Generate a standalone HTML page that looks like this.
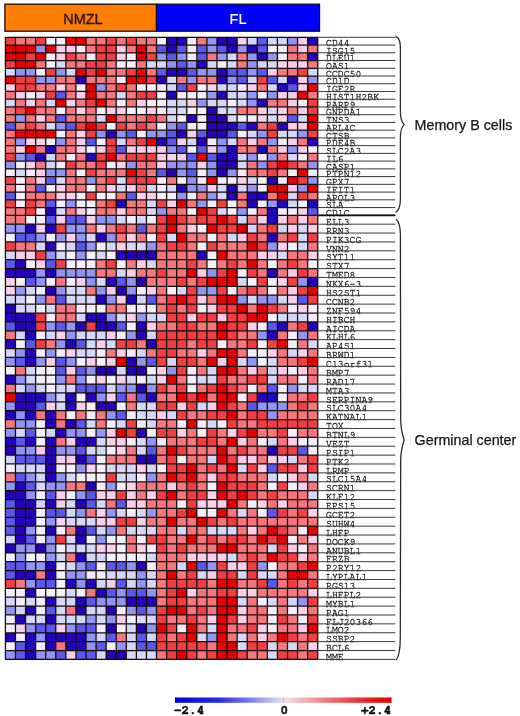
<!DOCTYPE html>
<html><head><meta charset="utf-8"><title>Heatmap NMZL vs FL</title>
<style>
html,body{margin:0;padding:0;background:#fff;}
body{width:520px;height:716px;overflow:hidden;position:relative;}
svg{position:absolute;left:0;top:0;}
</style></head><body>
<svg width="520" height="716" viewBox="0 0 520 716">
<rect x="0" y="0" width="520" height="716" fill="#ffffff"/>
<defs>
<linearGradient id="cb" x1="0" x2="1" y1="0" y2="0">
<stop offset="0" stop-color="#0000e0"/>
<stop offset="0.2" stop-color="#2a2ae6"/>
<stop offset="0.35" stop-color="#8080ee"/>
<stop offset="0.49" stop-color="#d8dcf4"/>
<stop offset="0.51" stop-color="#f8dade"/>
<stop offset="0.6" stop-color="#f4acb4"/>
<stop offset="0.7" stop-color="#f07880"/>
<stop offset="0.8" stop-color="#ec4850"/>
<stop offset="0.9" stop-color="#e81c20"/>
<stop offset="1" stop-color="#e40000"/>
</linearGradient>
</defs>
<rect x="4.9" y="4.2" width="151.6" height="27" fill="#ff7d00" stroke="#1a0800" stroke-width="1.3"/>
<rect x="156.5" y="4.2" width="163" height="27" fill="#0000ff" stroke="#0a0a30" stroke-width="1.3"/>
<text x="82.9" y="24" font-family="Liberation Sans, Arial, sans-serif" font-size="14.5" fill="#2a1000" stroke="#2a1000" stroke-width="0.35" text-anchor="middle">NMZL</text>
<text x="238" y="24" font-family="Liberation Sans, Arial, sans-serif" font-size="14.5" fill="#ffffff" stroke="#ffffff" stroke-width="0.2" text-anchor="middle">FL</text>
<g transform="scale(1,0.95)" font-family="TeX Gyre Cursor, Liberation Mono, monospace" font-size="9.85" fill="#1a1a1a" stroke="#1a1a1a" stroke-width="0.28"><text x="326" y="48.2">CD44</text><text x="326" y="56.35">ISG15</text><text x="326" y="64.49">DLEU1</text><text x="326" y="72.64">OAS1</text><text x="326" y="80.78">CCDC50</text><text x="326" y="88.93">CD1D</text><text x="326" y="97.08">IGF2R</text><text x="326" y="105.22">HIST1H2BK</text><text x="326" y="113.37">PARP9</text><text x="326" y="121.52">GNPDA1</text><text x="326" y="129.66">TNS3</text><text x="326" y="137.81">ARL4C</text><text x="326" y="145.95">CTSB</text><text x="326" y="154.1">PDE4B</text><text x="326" y="162.25">SLC2A3</text><text x="326" y="170.39">IL6</text><text x="326" y="178.54">CASP1</text><text x="326" y="186.69">PTPN12</text><text x="326" y="194.83">GPX7</text><text x="326" y="202.98">IFIT1</text><text x="326" y="211.13">APOL3</text><text x="326" y="219.27">SLA</text><text x="326" y="227.42">CD1C</text><text x="326" y="236.77">ELL3</text><text x="326" y="246.12">RRN3</text><text x="326" y="255.47">PIK3CG</text><text x="326" y="264.82">VNN2</text><text x="326" y="274.17">SYT11</text><text x="326" y="283.51">STX7</text><text x="326" y="292.86">TMED8</text><text x="326" y="302.21">NKX6-3</text><text x="326" y="311.56">HS2ST1</text><text x="326" y="320.91">CCNB2</text><text x="326" y="330.26">ZNF594</text><text x="326" y="339.61">HIBCH</text><text x="326" y="348.96">AICDA</text><text x="326" y="358.31">KLHL6</text><text x="326" y="367.66">AP4S1</text><text x="326" y="377.01">BRWD1</text><text x="326" y="386.36">C13orf31</text><text x="326" y="395.71">BMP7</text><text x="326" y="405.06">RAD17</text><text x="326" y="414.41">MTA3</text><text x="326" y="423.76">SERPINA9</text><text x="326" y="433.11">SLC30A4</text><text x="326" y="442.46">KATNAL1</text><text x="326" y="451.81">TOX</text><text x="326" y="461.15">BTNL9</text><text x="326" y="470.5">VEZT</text><text x="326" y="479.85">PSIP1</text><text x="326" y="489.2">PTK2</text><text x="326" y="498.55">LRMP</text><text x="326" y="507.9">SLC15A4</text><text x="326" y="517.25">SCRN1</text><text x="326" y="526.6">KLF12</text><text x="326" y="535.95">EPS15</text><text x="326" y="545.3">GCET2</text><text x="326" y="554.65">SUHW4</text><text x="326" y="564">LHFP</text><text x="326" y="573.35">DOCK9</text><text x="326" y="582.7">ANUBL1</text><text x="326" y="592.05">FRZB</text><text x="326" y="601.4">P2RY12</text><text x="326" y="610.75">LYPLAL1</text><text x="326" y="620.1">RGS13</text><text x="326" y="629.45">LHFPL2</text><text x="326" y="638.79">MYBL1</text><text x="326" y="648.14">PAG1</text><text x="326" y="657.49">FLJ20366</text><text x="326" y="666.84">LMO2</text><text x="326" y="676.19">SSBP2</text><text x="326" y="685.54">BCL6</text><text x="326" y="694.89">MME</text></g>
<g shape-rendering="crispEdges"><path fill="#2204bc" d="M166.6 37.3h10.07v7.74h-10.07zM176.67 37.3h10.07v7.74h-10.07zM216.97 37.3h10.07v7.74h-10.07zM227.05 37.3h10.07v7.74h-10.07zM307.65 37.3h10.07v7.74h-10.07zM166.6 45.04h10.07v7.74h-10.07zM227.05 45.04h10.07v7.74h-10.07zM247.2 45.04h10.07v7.74h-10.07zM257.27 52.78h10.07v7.74h-10.07zM307.65 52.78h10.07v7.74h-10.07zM196.82 60.52h10.07v7.74h-10.07zM166.6 68.26h10.07v7.74h-10.07zM176.67 68.26h10.07v7.74h-10.07zM216.97 68.26h10.07v7.74h-10.07zM75.92 76h10.07v7.74h-10.07zM156.53 76h10.07v7.74h-10.07zM216.97 76h10.07v7.74h-10.07zM287.5 76h10.07v7.74h-10.07zM277.42 83.73h10.07v7.74h-10.07zM166.6 91.47h10.07v7.74h-10.07zM216.97 91.47h10.07v7.74h-10.07zM257.27 99.21h10.07v7.74h-10.07zM206.9 106.95h10.07v7.74h-10.07zM186.75 114.69h10.07v7.74h-10.07zM206.9 114.69h10.07v7.74h-10.07zM216.97 114.69h10.07v7.74h-10.07zM206.9 122.43h10.07v7.74h-10.07zM216.97 122.43h10.07v7.74h-10.07zM227.05 122.43h10.07v7.74h-10.07zM247.2 122.43h10.07v7.74h-10.07zM277.42 122.43h10.07v7.74h-10.07zM106.15 130.17h10.07v7.74h-10.07zM176.67 130.17h10.07v7.74h-10.07zM206.9 130.17h10.07v7.74h-10.07zM216.97 130.17h10.07v7.74h-10.07zM156.53 137.91h10.07v7.74h-10.07zM196.82 137.91h10.07v7.74h-10.07zM307.65 137.91h10.07v7.74h-10.07zM45.7 145.65h10.07v7.74h-10.07zM227.05 145.65h10.07v7.74h-10.07zM257.27 145.65h10.07v7.74h-10.07zM35.62 153.38h10.07v7.74h-10.07zM86 153.38h10.07v7.74h-10.07zM216.97 153.38h10.07v7.74h-10.07zM227.05 153.38h10.07v7.74h-10.07zM216.97 161.12h10.07v7.74h-10.07zM227.05 161.12h10.07v7.74h-10.07zM166.6 168.86h10.07v7.74h-10.07zM216.97 168.86h10.07v7.74h-10.07zM267.35 176.6h10.07v7.74h-10.07zM176.67 184.34h10.07v7.74h-10.07zM227.05 184.34h10.07v7.74h-10.07zM227.05 192.08h10.07v7.74h-10.07zM247.2 192.08h10.07v7.74h-10.07zM257.27 192.08h10.07v7.74h-10.07zM116.22 199.82h10.07v7.74h-10.07zM247.2 199.82h10.07v7.74h-10.07zM277.42 199.82h10.07v7.74h-10.07zM307.65 199.82h10.07v7.74h-10.07zM45.7 207.56h10.07v7.74h-10.07zM267.35 207.56h10.07v7.74h-10.07zM267.35 215.3h10.07v8.88h-10.07zM25.55 224.18h10.07v8.88h-10.07zM45.7 224.18h10.07v8.88h-10.07zM96.08 233.06h10.07v8.88h-10.07zM267.35 233.06h10.07v8.88h-10.07zM45.7 241.94h10.07v8.88h-10.07zM116.22 250.82h10.07v8.88h-10.07zM126.3 250.82h10.07v8.88h-10.07zM136.38 250.82h10.07v8.88h-10.07zM146.45 250.82h10.07v8.88h-10.07zM196.82 250.82h10.07v8.88h-10.07zM15.47 259.71h10.07v8.88h-10.07zM5.4 268.59h10.07v8.88h-10.07zM15.47 268.59h10.07v8.88h-10.07zM25.55 268.59h10.07v8.88h-10.07zM45.7 268.59h10.07v8.88h-10.07zM267.35 268.59h10.07v8.88h-10.07zM106.15 277.47h10.07v8.88h-10.07zM136.38 277.47h10.07v8.88h-10.07zM307.65 277.47h10.07v8.88h-10.07zM45.7 286.35h10.07v8.88h-10.07zM116.22 286.35h10.07v8.88h-10.07zM96.08 295.23h10.07v8.88h-10.07zM126.3 295.23h10.07v8.88h-10.07zM5.4 304.12h10.07v8.88h-10.07zM5.4 313h10.07v8.88h-10.07zM15.47 313h10.07v8.88h-10.07zM25.55 313h10.07v8.88h-10.07zM86 313h10.07v8.88h-10.07zM96.08 313h10.07v8.88h-10.07zM15.47 321.88h10.07v8.88h-10.07zM25.55 321.88h10.07v8.88h-10.07zM75.92 321.88h10.07v8.88h-10.07zM96.08 321.88h10.07v8.88h-10.07zM106.15 321.88h10.07v8.88h-10.07zM136.38 321.88h10.07v8.88h-10.07zM277.42 321.88h10.07v8.88h-10.07zM307.65 321.88h10.07v8.88h-10.07zM25.55 330.76h10.07v8.88h-10.07zM136.38 330.76h10.07v8.88h-10.07zM267.35 330.76h10.07v8.88h-10.07zM5.4 339.64h10.07v8.88h-10.07zM65.85 339.64h10.07v8.88h-10.07zM146.45 339.64h10.07v8.88h-10.07zM25.55 348.53h10.07v8.88h-10.07zM25.55 357.41h10.07v8.88h-10.07zM126.3 357.41h10.07v8.88h-10.07zM96.08 366.29h10.07v8.88h-10.07zM106.15 366.29h10.07v8.88h-10.07zM126.3 366.29h10.07v8.88h-10.07zM136.38 366.29h10.07v8.88h-10.07zM5.4 375.17h10.07v8.88h-10.07zM136.38 384.05h10.07v8.88h-10.07zM15.47 392.94h10.07v8.88h-10.07zM25.55 392.94h10.07v8.88h-10.07zM35.62 392.94h10.07v8.88h-10.07zM65.85 392.94h10.07v8.88h-10.07zM86 392.94h10.07v8.88h-10.07zM146.45 392.94h10.07v8.88h-10.07zM257.27 392.94h10.07v8.88h-10.07zM267.35 392.94h10.07v8.88h-10.07zM15.47 401.82h10.07v8.88h-10.07zM25.55 401.82h10.07v8.88h-10.07zM65.85 401.82h10.07v8.88h-10.07zM96.08 401.82h10.07v8.88h-10.07zM106.15 401.82h10.07v8.88h-10.07zM5.4 410.7h10.07v8.88h-10.07zM25.55 410.7h10.07v8.88h-10.07zM45.7 410.7h10.07v8.88h-10.07zM45.7 419.58h10.07v8.88h-10.07zM65.85 419.58h10.07v8.88h-10.07zM55.77 428.46h10.07v8.88h-10.07zM136.38 428.46h10.07v8.88h-10.07zM5.4 437.35h10.07v8.88h-10.07zM25.55 437.35h10.07v8.88h-10.07zM45.7 437.35h10.07v8.88h-10.07zM75.92 437.35h10.07v8.88h-10.07zM86 437.35h10.07v8.88h-10.07zM5.4 446.23h10.07v8.88h-10.07zM45.7 446.23h10.07v8.88h-10.07zM267.35 446.23h10.07v8.88h-10.07zM45.7 455.11h10.07v8.88h-10.07zM75.92 455.11h10.07v8.88h-10.07zM136.38 455.11h10.07v8.88h-10.07zM146.45 455.11h10.07v8.88h-10.07zM45.7 463.99h10.07v8.88h-10.07zM45.7 472.87h10.07v8.88h-10.07zM15.47 481.76h10.07v8.88h-10.07zM86 481.76h10.07v8.88h-10.07zM5.4 490.64h10.07v8.88h-10.07zM15.47 490.64h10.07v8.88h-10.07zM15.47 499.52h10.07v8.88h-10.07zM25.55 499.52h10.07v8.88h-10.07zM45.7 499.52h10.07v8.88h-10.07zM75.92 499.52h10.07v8.88h-10.07zM15.47 508.4h10.07v8.88h-10.07zM25.55 508.4h10.07v8.88h-10.07zM15.47 517.28h10.07v8.88h-10.07zM25.55 517.28h10.07v8.88h-10.07zM15.47 526.17h10.07v8.88h-10.07zM45.7 526.17h10.07v8.88h-10.07zM75.92 526.17h10.07v8.88h-10.07zM15.47 535.05h10.07v8.88h-10.07zM75.92 535.05h10.07v8.88h-10.07zM5.4 543.93h10.07v8.88h-10.07zM35.62 543.93h10.07v8.88h-10.07zM75.92 552.81h10.07v8.88h-10.07zM45.7 561.69h10.07v8.88h-10.07zM136.38 561.69h10.07v8.88h-10.07zM15.47 570.58h10.07v8.88h-10.07zM25.55 570.58h10.07v8.88h-10.07zM45.7 570.58h10.07v8.88h-10.07zM65.85 579.46h10.07v8.88h-10.07zM86 579.46h10.07v8.88h-10.07zM25.55 588.34h10.07v8.88h-10.07zM96.08 588.34h10.07v8.88h-10.07zM45.7 597.22h10.07v8.88h-10.07zM75.92 597.22h10.07v8.88h-10.07zM126.3 597.22h10.07v8.88h-10.07zM136.38 597.22h10.07v8.88h-10.07zM146.45 597.22h10.07v8.88h-10.07zM25.55 606.11h10.07v8.88h-10.07zM75.92 606.11h10.07v8.88h-10.07zM106.15 606.11h10.07v8.88h-10.07zM15.47 614.99h10.07v8.88h-10.07zM45.7 614.99h10.07v8.88h-10.07zM106.15 623.87h10.07v8.88h-10.07zM136.38 623.87h10.07v8.88h-10.07zM5.4 632.75h10.07v8.88h-10.07zM25.55 632.75h10.07v8.88h-10.07zM45.7 632.75h10.07v8.88h-10.07zM55.77 632.75h10.07v8.88h-10.07zM65.85 632.75h10.07v8.88h-10.07zM75.92 632.75h10.07v8.88h-10.07zM25.55 641.63h10.07v8.88h-10.07zM45.7 641.63h10.07v8.88h-10.07zM65.85 641.63h10.07v8.88h-10.07zM75.92 641.63h10.07v8.88h-10.07zM25.55 650.51h10.07v8.88h-10.07zM106.15 650.51h10.07v8.88h-10.07zM116.22 650.51h10.07v8.88h-10.07z"/><path fill="#5a58ea" d="M257.27 37.3h10.07v7.74h-10.07zM156.53 45.04h10.07v7.74h-10.07zM176.67 45.04h10.07v7.74h-10.07zM196.82 45.04h10.07v7.74h-10.07zM216.97 45.04h10.07v7.74h-10.07zM257.27 45.04h10.07v7.74h-10.07zM166.6 52.78h10.07v7.74h-10.07zM196.82 52.78h10.07v7.74h-10.07zM176.67 60.52h10.07v7.74h-10.07zM156.53 68.26h10.07v7.74h-10.07zM186.75 68.26h10.07v7.74h-10.07zM227.05 68.26h10.07v7.74h-10.07zM237.12 68.26h10.07v7.74h-10.07zM257.27 68.26h10.07v7.74h-10.07zM237.12 76h10.07v7.74h-10.07zM267.35 76h10.07v7.74h-10.07zM176.67 83.73h10.07v7.74h-10.07zM287.5 83.73h10.07v7.74h-10.07zM55.77 91.47h10.07v7.74h-10.07zM55.77 114.69h10.07v7.74h-10.07zM287.5 114.69h10.07v7.74h-10.07zM5.4 122.43h10.07v7.74h-10.07zM65.85 122.43h10.07v7.74h-10.07zM176.67 122.43h10.07v7.74h-10.07zM237.12 122.43h10.07v7.74h-10.07zM126.3 130.17h10.07v7.74h-10.07zM166.6 130.17h10.07v7.74h-10.07zM196.82 130.17h10.07v7.74h-10.07zM227.05 130.17h10.07v7.74h-10.07zM86 137.91h10.07v7.74h-10.07zM166.6 137.91h10.07v7.74h-10.07zM116.22 145.65h10.07v7.74h-10.07zM176.67 145.65h10.07v7.74h-10.07zM196.82 145.65h10.07v7.74h-10.07zM25.55 153.38h10.07v7.74h-10.07zM186.75 153.38h10.07v7.74h-10.07zM206.9 153.38h10.07v7.74h-10.07zM156.53 168.86h10.07v7.74h-10.07zM186.75 168.86h10.07v7.74h-10.07zM45.7 176.6h10.07v7.74h-10.07zM35.62 184.34h10.07v7.74h-10.07zM5.4 192.08h10.07v7.74h-10.07zM126.3 192.08h10.07v7.74h-10.07zM45.7 199.82h10.07v7.74h-10.07zM307.65 207.56h10.07v7.74h-10.07zM45.7 215.3h10.07v8.88h-10.07zM65.85 215.3h10.07v8.88h-10.07zM75.92 215.3h10.07v8.88h-10.07zM136.38 224.18h10.07v8.88h-10.07zM15.47 233.06h10.07v8.88h-10.07zM25.55 233.06h10.07v8.88h-10.07zM75.92 241.94h10.07v8.88h-10.07zM5.4 259.71h10.07v8.88h-10.07zM45.7 259.71h10.07v8.88h-10.07zM25.55 277.47h10.07v8.88h-10.07zM116.22 277.47h10.07v8.88h-10.07zM55.77 295.23h10.07v8.88h-10.07zM146.45 295.23h10.07v8.88h-10.07zM297.57 295.23h10.07v8.88h-10.07zM5.4 321.88h10.07v8.88h-10.07zM55.77 321.88h10.07v8.88h-10.07zM116.22 321.88h10.07v8.88h-10.07zM267.35 321.88h10.07v8.88h-10.07zM25.55 339.64h10.07v8.88h-10.07zM75.92 339.64h10.07v8.88h-10.07zM15.47 357.41h10.07v8.88h-10.07zM55.77 357.41h10.07v8.88h-10.07zM146.45 357.41h10.07v8.88h-10.07zM55.77 366.29h10.07v8.88h-10.07zM75.92 366.29h10.07v8.88h-10.07zM75.92 384.05h10.07v8.88h-10.07zM86 384.05h10.07v8.88h-10.07zM96.08 384.05h10.07v8.88h-10.07zM267.35 384.05h10.07v8.88h-10.07zM116.22 392.94h10.07v8.88h-10.07zM136.38 392.94h10.07v8.88h-10.07zM35.62 401.82h10.07v8.88h-10.07zM247.2 401.82h10.07v8.88h-10.07zM116.22 410.7h10.07v8.88h-10.07zM75.92 419.58h10.07v8.88h-10.07zM25.55 428.46h10.07v8.88h-10.07zM15.47 437.35h10.07v8.88h-10.07zM75.92 446.23h10.07v8.88h-10.07zM146.45 446.23h10.07v8.88h-10.07zM297.57 446.23h10.07v8.88h-10.07zM15.47 455.11h10.07v8.88h-10.07zM25.55 455.11h10.07v8.88h-10.07zM35.62 455.11h10.07v8.88h-10.07zM86 455.11h10.07v8.88h-10.07zM267.35 463.99h10.07v8.88h-10.07zM15.47 472.87h10.07v8.88h-10.07zM25.55 481.76h10.07v8.88h-10.07zM45.7 490.64h10.07v8.88h-10.07zM86 490.64h10.07v8.88h-10.07zM5.4 499.52h10.07v8.88h-10.07zM86 499.52h10.07v8.88h-10.07zM116.22 499.52h10.07v8.88h-10.07zM5.4 508.4h10.07v8.88h-10.07zM45.7 508.4h10.07v8.88h-10.07zM55.77 508.4h10.07v8.88h-10.07zM267.35 508.4h10.07v8.88h-10.07zM5.4 517.28h10.07v8.88h-10.07zM5.4 526.17h10.07v8.88h-10.07zM86 526.17h10.07v8.88h-10.07zM25.55 535.05h10.07v8.88h-10.07zM5.4 561.69h10.07v8.88h-10.07zM15.47 561.69h10.07v8.88h-10.07zM86 561.69h10.07v8.88h-10.07zM106.15 561.69h10.07v8.88h-10.07zM116.22 561.69h10.07v8.88h-10.07zM196.82 561.69h10.07v8.88h-10.07zM5.4 570.58h10.07v8.88h-10.07zM35.62 579.46h10.07v8.88h-10.07zM45.7 579.46h10.07v8.88h-10.07zM116.22 579.46h10.07v8.88h-10.07zM267.35 579.46h10.07v8.88h-10.07zM106.15 588.34h10.07v8.88h-10.07zM126.3 588.34h10.07v8.88h-10.07zM136.38 588.34h10.07v8.88h-10.07zM86 597.22h10.07v8.88h-10.07zM45.7 606.11h10.07v8.88h-10.07zM136.38 606.11h10.07v8.88h-10.07zM35.62 623.87h10.07v8.88h-10.07zM45.7 623.87h10.07v8.88h-10.07zM75.92 623.87h10.07v8.88h-10.07zM86 623.87h10.07v8.88h-10.07zM106.15 632.75h10.07v8.88h-10.07zM136.38 632.75h10.07v8.88h-10.07zM15.47 641.63h10.07v8.88h-10.07zM96.08 641.63h10.07v8.88h-10.07zM136.38 641.63h10.07v8.88h-10.07zM146.45 641.63h10.07v8.88h-10.07zM15.47 650.51h10.07v8.88h-10.07zM55.77 650.51h10.07v8.88h-10.07zM75.92 650.51h10.07v8.88h-10.07zM86 650.51h10.07v8.88h-10.07z"/><path fill="#9094f2" d="M206.9 37.3h10.07v7.74h-10.07zM287.5 37.3h10.07v7.74h-10.07zM35.62 45.04h10.07v7.74h-10.07zM206.9 45.04h10.07v7.74h-10.07zM237.12 45.04h10.07v7.74h-10.07zM156.53 52.78h10.07v7.74h-10.07zM176.67 52.78h10.07v7.74h-10.07zM216.97 52.78h10.07v7.74h-10.07zM247.2 52.78h10.07v7.74h-10.07zM267.35 52.78h10.07v7.74h-10.07zM166.6 60.52h10.07v7.74h-10.07zM186.75 60.52h10.07v7.74h-10.07zM247.2 60.52h10.07v7.74h-10.07zM15.47 68.26h10.07v7.74h-10.07zM25.55 68.26h10.07v7.74h-10.07zM55.77 68.26h10.07v7.74h-10.07zM196.82 68.26h10.07v7.74h-10.07zM206.9 68.26h10.07v7.74h-10.07zM247.2 68.26h10.07v7.74h-10.07zM35.62 76h10.07v7.74h-10.07zM45.7 76h10.07v7.74h-10.07zM186.75 76h10.07v7.74h-10.07zM227.05 76h10.07v7.74h-10.07zM307.65 76h10.07v7.74h-10.07zM96.08 83.73h10.07v7.74h-10.07zM206.9 91.47h10.07v7.74h-10.07zM247.2 91.47h10.07v7.74h-10.07zM267.35 91.47h10.07v7.74h-10.07zM196.82 99.21h10.07v7.74h-10.07zM247.2 99.21h10.07v7.74h-10.07zM15.47 114.69h10.07v7.74h-10.07zM55.77 122.43h10.07v7.74h-10.07zM166.6 122.43h10.07v7.74h-10.07zM96.08 130.17h10.07v7.74h-10.07zM116.22 130.17h10.07v7.74h-10.07zM146.45 130.17h10.07v7.74h-10.07zM156.53 130.17h10.07v7.74h-10.07zM257.27 130.17h10.07v7.74h-10.07zM297.57 130.17h10.07v7.74h-10.07zM15.47 137.91h10.07v7.74h-10.07zM55.77 137.91h10.07v7.74h-10.07zM216.97 137.91h10.07v7.74h-10.07zM267.35 137.91h10.07v7.74h-10.07zM166.6 145.65h10.07v7.74h-10.07zM216.97 145.65h10.07v7.74h-10.07zM287.5 145.65h10.07v7.74h-10.07zM15.47 153.38h10.07v7.74h-10.07zM247.2 153.38h10.07v7.74h-10.07zM267.35 153.38h10.07v7.74h-10.07zM5.4 161.12h10.07v7.74h-10.07zM126.3 161.12h10.07v7.74h-10.07zM166.6 161.12h10.07v7.74h-10.07zM176.67 161.12h10.07v7.74h-10.07zM186.75 161.12h10.07v7.74h-10.07zM206.9 161.12h10.07v7.74h-10.07zM257.27 161.12h10.07v7.74h-10.07zM307.65 161.12h10.07v7.74h-10.07zM45.7 168.86h10.07v7.74h-10.07zM55.77 168.86h10.07v7.74h-10.07zM176.67 168.86h10.07v7.74h-10.07zM206.9 168.86h10.07v7.74h-10.07zM227.05 168.86h10.07v7.74h-10.07zM86 176.6h10.07v7.74h-10.07zM186.75 176.6h10.07v7.74h-10.07zM307.65 176.6h10.07v7.74h-10.07zM186.75 184.34h10.07v7.74h-10.07zM196.82 184.34h10.07v7.74h-10.07zM247.2 184.34h10.07v7.74h-10.07zM297.57 184.34h10.07v7.74h-10.07zM176.67 192.08h10.07v7.74h-10.07zM206.9 192.08h10.07v7.74h-10.07zM65.85 199.82h10.07v7.74h-10.07zM196.82 199.82h10.07v7.74h-10.07zM267.35 199.82h10.07v7.74h-10.07zM156.53 207.56h10.07v7.74h-10.07zM237.12 207.56h10.07v7.74h-10.07zM96.08 215.3h10.07v8.88h-10.07zM106.15 215.3h10.07v8.88h-10.07zM5.4 224.18h10.07v8.88h-10.07zM15.47 224.18h10.07v8.88h-10.07zM65.85 224.18h10.07v8.88h-10.07zM75.92 224.18h10.07v8.88h-10.07zM35.62 233.06h10.07v8.88h-10.07zM55.77 233.06h10.07v8.88h-10.07zM75.92 233.06h10.07v8.88h-10.07zM106.15 233.06h10.07v8.88h-10.07zM86 241.94h10.07v8.88h-10.07zM146.45 241.94h10.07v8.88h-10.07zM267.35 241.94h10.07v8.88h-10.07zM45.7 250.82h10.07v8.88h-10.07zM75.92 250.82h10.07v8.88h-10.07zM35.62 268.59h10.07v8.88h-10.07zM55.77 268.59h10.07v8.88h-10.07zM65.85 268.59h10.07v8.88h-10.07zM75.92 268.59h10.07v8.88h-10.07zM86 268.59h10.07v8.88h-10.07zM206.9 268.59h10.07v8.88h-10.07zM35.62 277.47h10.07v8.88h-10.07zM86 277.47h10.07v8.88h-10.07zM126.3 277.47h10.07v8.88h-10.07zM297.57 277.47h10.07v8.88h-10.07zM15.47 286.35h10.07v8.88h-10.07zM55.77 286.35h10.07v8.88h-10.07zM96.08 286.35h10.07v8.88h-10.07zM126.3 286.35h10.07v8.88h-10.07zM196.82 286.35h10.07v8.88h-10.07zM206.9 286.35h10.07v8.88h-10.07zM35.62 295.23h10.07v8.88h-10.07zM106.15 295.23h10.07v8.88h-10.07zM237.12 295.23h10.07v8.88h-10.07zM257.27 295.23h10.07v8.88h-10.07zM267.35 295.23h10.07v8.88h-10.07zM106.15 313h10.07v8.88h-10.07zM136.38 313h10.07v8.88h-10.07zM45.7 321.88h10.07v8.88h-10.07zM65.85 321.88h10.07v8.88h-10.07zM65.85 330.76h10.07v8.88h-10.07zM126.3 330.76h10.07v8.88h-10.07zM257.27 330.76h10.07v8.88h-10.07zM297.57 330.76h10.07v8.88h-10.07zM55.77 339.64h10.07v8.88h-10.07zM15.47 348.53h10.07v8.88h-10.07zM45.7 348.53h10.07v8.88h-10.07zM5.4 357.41h10.07v8.88h-10.07zM35.62 357.41h10.07v8.88h-10.07zM65.85 357.41h10.07v8.88h-10.07zM136.38 357.41h10.07v8.88h-10.07zM247.2 357.41h10.07v8.88h-10.07zM86 366.29h10.07v8.88h-10.07zM166.6 366.29h10.07v8.88h-10.07zM15.47 375.17h10.07v8.88h-10.07zM55.77 375.17h10.07v8.88h-10.07zM75.92 375.17h10.07v8.88h-10.07zM25.55 384.05h10.07v8.88h-10.07zM116.22 384.05h10.07v8.88h-10.07zM126.3 384.05h10.07v8.88h-10.07zM146.45 384.05h10.07v8.88h-10.07zM287.5 384.05h10.07v8.88h-10.07zM45.7 392.94h10.07v8.88h-10.07zM96.08 392.94h10.07v8.88h-10.07zM5.4 401.82h10.07v8.88h-10.07zM257.27 401.82h10.07v8.88h-10.07zM267.35 401.82h10.07v8.88h-10.07zM277.42 401.82h10.07v8.88h-10.07zM15.47 410.7h10.07v8.88h-10.07zM106.15 410.7h10.07v8.88h-10.07zM267.35 410.7h10.07v8.88h-10.07zM15.47 419.58h10.07v8.88h-10.07zM25.55 419.58h10.07v8.88h-10.07zM5.4 428.46h10.07v8.88h-10.07zM65.85 428.46h10.07v8.88h-10.07zM75.92 428.46h10.07v8.88h-10.07zM96.08 428.46h10.07v8.88h-10.07zM146.45 437.35h10.07v8.88h-10.07zM15.47 446.23h10.07v8.88h-10.07zM25.55 446.23h10.07v8.88h-10.07zM55.77 446.23h10.07v8.88h-10.07zM65.85 446.23h10.07v8.88h-10.07zM75.92 463.99h10.07v8.88h-10.07zM25.55 472.87h10.07v8.88h-10.07zM55.77 472.87h10.07v8.88h-10.07zM146.45 472.87h10.07v8.88h-10.07zM5.4 481.76h10.07v8.88h-10.07zM45.7 481.76h10.07v8.88h-10.07zM55.77 481.76h10.07v8.88h-10.07zM106.15 481.76h10.07v8.88h-10.07zM25.55 490.64h10.07v8.88h-10.07zM75.92 490.64h10.07v8.88h-10.07zM75.92 508.4h10.07v8.88h-10.07zM106.15 508.4h10.07v8.88h-10.07zM146.45 508.4h10.07v8.88h-10.07zM45.7 517.28h10.07v8.88h-10.07zM25.55 526.17h10.07v8.88h-10.07zM106.15 526.17h10.07v8.88h-10.07zM45.7 535.05h10.07v8.88h-10.07zM96.08 535.05h10.07v8.88h-10.07zM15.47 543.93h10.07v8.88h-10.07zM25.55 543.93h10.07v8.88h-10.07zM45.7 543.93h10.07v8.88h-10.07zM15.47 552.81h10.07v8.88h-10.07zM45.7 552.81h10.07v8.88h-10.07zM25.55 561.69h10.07v8.88h-10.07zM35.62 561.69h10.07v8.88h-10.07zM75.92 561.69h10.07v8.88h-10.07zM126.3 561.69h10.07v8.88h-10.07zM206.9 561.69h10.07v8.88h-10.07zM257.27 561.69h10.07v8.88h-10.07zM65.85 570.58h10.07v8.88h-10.07zM75.92 570.58h10.07v8.88h-10.07zM136.38 570.58h10.07v8.88h-10.07zM25.55 579.46h10.07v8.88h-10.07zM75.92 579.46h10.07v8.88h-10.07zM136.38 579.46h10.07v8.88h-10.07zM116.22 588.34h10.07v8.88h-10.07zM146.45 588.34h10.07v8.88h-10.07zM96.08 597.22h10.07v8.88h-10.07zM106.15 597.22h10.07v8.88h-10.07zM116.22 597.22h10.07v8.88h-10.07zM297.57 597.22h10.07v8.88h-10.07zM5.4 606.11h10.07v8.88h-10.07zM126.3 606.11h10.07v8.88h-10.07zM146.45 606.11h10.07v8.88h-10.07zM86 614.99h10.07v8.88h-10.07zM106.15 614.99h10.07v8.88h-10.07zM25.55 623.87h10.07v8.88h-10.07zM65.85 623.87h10.07v8.88h-10.07zM146.45 623.87h10.07v8.88h-10.07zM35.62 632.75h10.07v8.88h-10.07zM86 632.75h10.07v8.88h-10.07zM206.9 632.75h10.07v8.88h-10.07zM86 641.63h10.07v8.88h-10.07zM116.22 641.63h10.07v8.88h-10.07zM5.4 650.51h10.07v8.88h-10.07zM35.62 650.51h10.07v8.88h-10.07zM45.7 650.51h10.07v8.88h-10.07z"/><path fill="#d4d8f8" d="M247.2 37.3h10.07v7.74h-10.07zM267.35 37.3h10.07v7.74h-10.07zM277.42 37.3h10.07v7.74h-10.07zM227.05 52.78h10.07v7.74h-10.07zM55.77 60.52h10.07v7.74h-10.07zM146.45 60.52h10.07v7.74h-10.07zM156.53 60.52h10.07v7.74h-10.07zM206.9 60.52h10.07v7.74h-10.07zM227.05 60.52h10.07v7.74h-10.07zM257.27 60.52h10.07v7.74h-10.07zM267.35 60.52h10.07v7.74h-10.07zM5.4 68.26h10.07v7.74h-10.07zM65.85 68.26h10.07v7.74h-10.07zM307.65 68.26h10.07v7.74h-10.07zM166.6 76h10.07v7.74h-10.07zM247.2 76h10.07v7.74h-10.07zM277.42 76h10.07v7.74h-10.07zM166.6 83.73h10.07v7.74h-10.07zM216.97 83.73h10.07v7.74h-10.07zM227.05 83.73h10.07v7.74h-10.07zM267.35 83.73h10.07v7.74h-10.07zM116.22 91.47h10.07v7.74h-10.07zM227.05 91.47h10.07v7.74h-10.07zM237.12 91.47h10.07v7.74h-10.07zM5.4 99.21h10.07v7.74h-10.07zM45.7 99.21h10.07v7.74h-10.07zM166.6 99.21h10.07v7.74h-10.07zM176.67 99.21h10.07v7.74h-10.07zM206.9 99.21h10.07v7.74h-10.07zM216.97 99.21h10.07v7.74h-10.07zM237.12 99.21h10.07v7.74h-10.07zM166.6 106.95h10.07v7.74h-10.07zM176.67 106.95h10.07v7.74h-10.07zM216.97 106.95h10.07v7.74h-10.07zM227.05 106.95h10.07v7.74h-10.07zM267.35 106.95h10.07v7.74h-10.07zM96.08 114.69h10.07v7.74h-10.07zM166.6 114.69h10.07v7.74h-10.07zM227.05 114.69h10.07v7.74h-10.07zM267.35 114.69h10.07v7.74h-10.07zM297.57 114.69h10.07v7.74h-10.07zM45.7 122.43h10.07v7.74h-10.07zM247.2 130.17h10.07v7.74h-10.07zM277.42 130.17h10.07v7.74h-10.07zM287.5 130.17h10.07v7.74h-10.07zM116.22 137.91h10.07v7.74h-10.07zM186.75 137.91h10.07v7.74h-10.07zM227.05 137.91h10.07v7.74h-10.07zM45.7 153.38h10.07v7.74h-10.07zM237.12 153.38h10.07v7.74h-10.07zM287.5 153.38h10.07v7.74h-10.07zM45.7 161.12h10.07v7.74h-10.07zM237.12 161.12h10.07v7.74h-10.07zM15.47 168.86h10.07v7.74h-10.07zM55.77 176.6h10.07v7.74h-10.07zM116.22 176.6h10.07v7.74h-10.07zM247.2 176.6h10.07v7.74h-10.07zM116.22 184.34h10.07v7.74h-10.07zM146.45 184.34h10.07v7.74h-10.07zM166.6 184.34h10.07v7.74h-10.07zM216.97 184.34h10.07v7.74h-10.07zM237.12 184.34h10.07v7.74h-10.07zM216.97 192.08h10.07v7.74h-10.07zM287.5 192.08h10.07v7.74h-10.07zM146.45 199.82h10.07v7.74h-10.07zM287.5 199.82h10.07v7.74h-10.07zM55.77 207.56h10.07v7.74h-10.07zM146.45 207.56h10.07v7.74h-10.07zM216.97 207.56h10.07v7.74h-10.07zM116.22 215.3h10.07v8.88h-10.07zM136.38 215.3h10.07v8.88h-10.07zM237.12 215.3h10.07v8.88h-10.07zM247.2 224.18h10.07v8.88h-10.07zM277.42 224.18h10.07v8.88h-10.07zM297.57 224.18h10.07v8.88h-10.07zM86 233.06h10.07v8.88h-10.07zM166.6 233.06h10.07v8.88h-10.07zM227.05 233.06h10.07v8.88h-10.07zM297.57 233.06h10.07v8.88h-10.07zM35.62 241.94h10.07v8.88h-10.07zM65.85 241.94h10.07v8.88h-10.07zM106.15 241.94h10.07v8.88h-10.07zM126.3 241.94h10.07v8.88h-10.07zM136.38 241.94h10.07v8.88h-10.07zM297.57 241.94h10.07v8.88h-10.07zM5.4 250.82h10.07v8.88h-10.07zM55.77 250.82h10.07v8.88h-10.07zM96.08 250.82h10.07v8.88h-10.07zM277.42 250.82h10.07v8.88h-10.07zM146.45 259.71h10.07v8.88h-10.07zM116.22 268.59h10.07v8.88h-10.07zM96.08 277.47h10.07v8.88h-10.07zM237.12 277.47h10.07v8.88h-10.07zM25.55 286.35h10.07v8.88h-10.07zM65.85 286.35h10.07v8.88h-10.07zM75.92 286.35h10.07v8.88h-10.07zM176.67 286.35h10.07v8.88h-10.07zM5.4 295.23h10.07v8.88h-10.07zM15.47 295.23h10.07v8.88h-10.07zM65.85 295.23h10.07v8.88h-10.07zM75.92 295.23h10.07v8.88h-10.07zM86 295.23h10.07v8.88h-10.07zM136.38 295.23h10.07v8.88h-10.07zM247.2 295.23h10.07v8.88h-10.07zM277.42 295.23h10.07v8.88h-10.07zM15.47 304.12h10.07v8.88h-10.07zM25.55 304.12h10.07v8.88h-10.07zM45.7 304.12h10.07v8.88h-10.07zM75.92 313h10.07v8.88h-10.07zM116.22 313h10.07v8.88h-10.07zM146.45 313h10.07v8.88h-10.07zM156.53 313h10.07v8.88h-10.07zM277.42 313h10.07v8.88h-10.07zM287.5 313h10.07v8.88h-10.07zM297.57 313h10.07v8.88h-10.07zM15.47 330.76h10.07v8.88h-10.07zM45.7 330.76h10.07v8.88h-10.07zM75.92 330.76h10.07v8.88h-10.07zM86 330.76h10.07v8.88h-10.07zM96.08 330.76h10.07v8.88h-10.07zM146.45 330.76h10.07v8.88h-10.07zM86 339.64h10.07v8.88h-10.07zM106.15 339.64h10.07v8.88h-10.07zM307.65 339.64h10.07v8.88h-10.07zM5.4 348.53h10.07v8.88h-10.07zM75.92 348.53h10.07v8.88h-10.07zM86 348.53h10.07v8.88h-10.07zM136.38 348.53h10.07v8.88h-10.07zM287.5 348.53h10.07v8.88h-10.07zM166.6 357.41h10.07v8.88h-10.07zM237.12 357.41h10.07v8.88h-10.07zM267.35 357.41h10.07v8.88h-10.07zM25.55 366.29h10.07v8.88h-10.07zM116.22 366.29h10.07v8.88h-10.07zM206.9 366.29h10.07v8.88h-10.07zM267.35 366.29h10.07v8.88h-10.07zM25.55 375.17h10.07v8.88h-10.07zM126.3 375.17h10.07v8.88h-10.07zM146.45 375.17h10.07v8.88h-10.07zM196.82 375.17h10.07v8.88h-10.07zM206.9 375.17h10.07v8.88h-10.07zM267.35 375.17h10.07v8.88h-10.07zM15.47 384.05h10.07v8.88h-10.07zM35.62 384.05h10.07v8.88h-10.07zM55.77 384.05h10.07v8.88h-10.07zM65.85 384.05h10.07v8.88h-10.07zM106.15 384.05h10.07v8.88h-10.07zM297.57 384.05h10.07v8.88h-10.07zM307.65 384.05h10.07v8.88h-10.07zM55.77 392.94h10.07v8.88h-10.07zM55.77 401.82h10.07v8.88h-10.07zM136.38 401.82h10.07v8.88h-10.07zM146.45 401.82h10.07v8.88h-10.07zM196.82 401.82h10.07v8.88h-10.07zM136.38 410.7h10.07v8.88h-10.07zM146.45 410.7h10.07v8.88h-10.07zM166.6 410.7h10.07v8.88h-10.07zM86 419.58h10.07v8.88h-10.07zM116.22 419.58h10.07v8.88h-10.07zM146.45 419.58h10.07v8.88h-10.07zM206.9 419.58h10.07v8.88h-10.07zM15.47 428.46h10.07v8.88h-10.07zM45.7 428.46h10.07v8.88h-10.07zM96.08 437.35h10.07v8.88h-10.07zM136.38 437.35h10.07v8.88h-10.07zM267.35 437.35h10.07v8.88h-10.07zM86 446.23h10.07v8.88h-10.07zM96.08 446.23h10.07v8.88h-10.07zM136.38 446.23h10.07v8.88h-10.07zM5.4 455.11h10.07v8.88h-10.07zM206.9 455.11h10.07v8.88h-10.07zM287.5 455.11h10.07v8.88h-10.07zM15.47 463.99h10.07v8.88h-10.07zM25.55 463.99h10.07v8.88h-10.07zM35.62 463.99h10.07v8.88h-10.07zM106.15 463.99h10.07v8.88h-10.07zM116.22 463.99h10.07v8.88h-10.07zM126.3 463.99h10.07v8.88h-10.07zM146.45 463.99h10.07v8.88h-10.07zM237.12 463.99h10.07v8.88h-10.07zM35.62 472.87h10.07v8.88h-10.07zM65.85 472.87h10.07v8.88h-10.07zM116.22 472.87h10.07v8.88h-10.07zM126.3 472.87h10.07v8.88h-10.07zM267.35 472.87h10.07v8.88h-10.07zM307.65 472.87h10.07v8.88h-10.07zM35.62 481.76h10.07v8.88h-10.07zM307.65 490.64h10.07v8.88h-10.07zM35.62 499.52h10.07v8.88h-10.07zM65.85 499.52h10.07v8.88h-10.07zM96.08 499.52h10.07v8.88h-10.07zM65.85 508.4h10.07v8.88h-10.07zM116.22 508.4h10.07v8.88h-10.07zM136.38 508.4h10.07v8.88h-10.07zM237.12 508.4h10.07v8.88h-10.07zM65.85 517.28h10.07v8.88h-10.07zM75.92 517.28h10.07v8.88h-10.07zM86 517.28h10.07v8.88h-10.07zM96.08 526.17h10.07v8.88h-10.07zM126.3 526.17h10.07v8.88h-10.07zM136.38 526.17h10.07v8.88h-10.07zM146.45 526.17h10.07v8.88h-10.07zM176.67 526.17h10.07v8.88h-10.07zM206.9 526.17h10.07v8.88h-10.07zM216.97 526.17h10.07v8.88h-10.07zM227.05 526.17h10.07v8.88h-10.07zM5.4 535.05h10.07v8.88h-10.07zM65.85 535.05h10.07v8.88h-10.07zM65.85 543.93h10.07v8.88h-10.07zM75.92 543.93h10.07v8.88h-10.07zM86 543.93h10.07v8.88h-10.07zM267.35 543.93h10.07v8.88h-10.07zM55.77 552.81h10.07v8.88h-10.07zM86 552.81h10.07v8.88h-10.07zM96.08 552.81h10.07v8.88h-10.07zM146.45 552.81h10.07v8.88h-10.07zM227.05 552.81h10.07v8.88h-10.07zM65.85 561.69h10.07v8.88h-10.07zM176.67 561.69h10.07v8.88h-10.07zM106.15 570.58h10.07v8.88h-10.07zM116.22 570.58h10.07v8.88h-10.07zM126.3 570.58h10.07v8.88h-10.07zM146.45 570.58h10.07v8.88h-10.07zM196.82 570.58h10.07v8.88h-10.07zM237.12 570.58h10.07v8.88h-10.07zM257.27 570.58h10.07v8.88h-10.07zM267.35 570.58h10.07v8.88h-10.07zM96.08 579.46h10.07v8.88h-10.07zM126.3 579.46h10.07v8.88h-10.07zM146.45 579.46h10.07v8.88h-10.07zM65.85 588.34h10.07v8.88h-10.07zM5.4 597.22h10.07v8.88h-10.07zM25.55 597.22h10.07v8.88h-10.07zM55.77 597.22h10.07v8.88h-10.07zM65.85 597.22h10.07v8.88h-10.07zM237.12 597.22h10.07v8.88h-10.07zM267.35 597.22h10.07v8.88h-10.07zM287.5 597.22h10.07v8.88h-10.07zM15.47 606.11h10.07v8.88h-10.07zM55.77 606.11h10.07v8.88h-10.07zM86 606.11h10.07v8.88h-10.07zM96.08 606.11h10.07v8.88h-10.07zM25.55 614.99h10.07v8.88h-10.07zM35.62 614.99h10.07v8.88h-10.07zM55.77 614.99h10.07v8.88h-10.07zM65.85 614.99h10.07v8.88h-10.07zM75.92 614.99h10.07v8.88h-10.07zM96.08 614.99h10.07v8.88h-10.07zM136.38 614.99h10.07v8.88h-10.07zM146.45 614.99h10.07v8.88h-10.07zM126.3 623.87h10.07v8.88h-10.07zM206.9 623.87h10.07v8.88h-10.07zM96.08 632.75h10.07v8.88h-10.07zM126.3 632.75h10.07v8.88h-10.07zM146.45 632.75h10.07v8.88h-10.07zM196.82 632.75h10.07v8.88h-10.07zM237.12 632.75h10.07v8.88h-10.07zM126.3 641.63h10.07v8.88h-10.07zM237.12 641.63h10.07v8.88h-10.07zM267.35 641.63h10.07v8.88h-10.07zM287.5 641.63h10.07v8.88h-10.07zM96.08 650.51h10.07v8.88h-10.07zM126.3 650.51h10.07v8.88h-10.07zM136.38 650.51h10.07v8.88h-10.07zM146.45 650.51h10.07v8.88h-10.07zM267.35 650.51h10.07v8.88h-10.07z"/><path fill="#f2effa" d="M45.7 37.3h10.07v7.74h-10.07zM55.77 37.3h10.07v7.74h-10.07zM156.53 37.3h10.07v7.74h-10.07zM186.75 37.3h10.07v7.74h-10.07zM75.92 45.04h10.07v7.74h-10.07zM186.75 45.04h10.07v7.74h-10.07zM267.35 45.04h10.07v7.74h-10.07zM277.42 45.04h10.07v7.74h-10.07zM45.7 52.78h10.07v7.74h-10.07zM86 52.78h10.07v7.74h-10.07zM126.3 52.78h10.07v7.74h-10.07zM186.75 52.78h10.07v7.74h-10.07zM277.42 52.78h10.07v7.74h-10.07zM45.7 60.52h10.07v7.74h-10.07zM116.22 60.52h10.07v7.74h-10.07zM126.3 60.52h10.07v7.74h-10.07zM216.97 60.52h10.07v7.74h-10.07zM35.62 68.26h10.07v7.74h-10.07zM116.22 76h10.07v7.74h-10.07zM75.92 83.73h10.07v7.74h-10.07zM136.38 83.73h10.07v7.74h-10.07zM146.45 83.73h10.07v7.74h-10.07zM156.53 83.73h10.07v7.74h-10.07zM196.82 83.73h10.07v7.74h-10.07zM237.12 83.73h10.07v7.74h-10.07zM25.55 91.47h10.07v7.74h-10.07zM156.53 91.47h10.07v7.74h-10.07zM176.67 91.47h10.07v7.74h-10.07zM186.75 91.47h10.07v7.74h-10.07zM196.82 91.47h10.07v7.74h-10.07zM257.27 91.47h10.07v7.74h-10.07zM116.22 99.21h10.07v7.74h-10.07zM146.45 99.21h10.07v7.74h-10.07zM156.53 99.21h10.07v7.74h-10.07zM227.05 99.21h10.07v7.74h-10.07zM297.57 99.21h10.07v7.74h-10.07zM55.77 106.95h10.07v7.74h-10.07zM96.08 106.95h10.07v7.74h-10.07zM126.3 106.95h10.07v7.74h-10.07zM136.38 106.95h10.07v7.74h-10.07zM156.53 106.95h10.07v7.74h-10.07zM186.75 106.95h10.07v7.74h-10.07zM196.82 106.95h10.07v7.74h-10.07zM176.67 114.69h10.07v7.74h-10.07zM196.82 114.69h10.07v7.74h-10.07zM237.12 114.69h10.07v7.74h-10.07zM247.2 114.69h10.07v7.74h-10.07zM106.15 122.43h10.07v7.74h-10.07zM156.53 122.43h10.07v7.74h-10.07zM186.75 122.43h10.07v7.74h-10.07zM196.82 122.43h10.07v7.74h-10.07zM55.77 130.17h10.07v7.74h-10.07zM136.38 130.17h10.07v7.74h-10.07zM237.12 130.17h10.07v7.74h-10.07zM45.7 137.91h10.07v7.74h-10.07zM96.08 137.91h10.07v7.74h-10.07zM206.9 137.91h10.07v7.74h-10.07zM277.42 137.91h10.07v7.74h-10.07zM86 145.65h10.07v7.74h-10.07zM186.75 145.65h10.07v7.74h-10.07zM307.65 145.65h10.07v7.74h-10.07zM65.85 153.38h10.07v7.74h-10.07zM257.27 153.38h10.07v7.74h-10.07zM297.57 153.38h10.07v7.74h-10.07zM15.47 161.12h10.07v7.74h-10.07zM55.77 161.12h10.07v7.74h-10.07zM106.15 161.12h10.07v7.74h-10.07zM5.4 168.86h10.07v7.74h-10.07zM25.55 168.86h10.07v7.74h-10.07zM75.92 168.86h10.07v7.74h-10.07zM196.82 168.86h10.07v7.74h-10.07zM237.12 168.86h10.07v7.74h-10.07zM287.5 168.86h10.07v7.74h-10.07zM307.65 168.86h10.07v7.74h-10.07zM15.47 176.6h10.07v7.74h-10.07zM156.53 176.6h10.07v7.74h-10.07zM176.67 176.6h10.07v7.74h-10.07zM196.82 176.6h10.07v7.74h-10.07zM216.97 176.6h10.07v7.74h-10.07zM227.05 176.6h10.07v7.74h-10.07zM257.27 176.6h10.07v7.74h-10.07zM277.42 176.6h10.07v7.74h-10.07zM15.47 184.34h10.07v7.74h-10.07zM45.7 184.34h10.07v7.74h-10.07zM86 184.34h10.07v7.74h-10.07zM156.53 184.34h10.07v7.74h-10.07zM257.27 184.34h10.07v7.74h-10.07zM15.47 192.08h10.07v7.74h-10.07zM75.92 192.08h10.07v7.74h-10.07zM96.08 192.08h10.07v7.74h-10.07zM106.15 192.08h10.07v7.74h-10.07zM156.53 192.08h10.07v7.74h-10.07zM166.6 192.08h10.07v7.74h-10.07zM186.75 192.08h10.07v7.74h-10.07zM15.47 199.82h10.07v7.74h-10.07zM55.77 199.82h10.07v7.74h-10.07zM75.92 199.82h10.07v7.74h-10.07zM86 199.82h10.07v7.74h-10.07zM206.9 199.82h10.07v7.74h-10.07zM227.05 199.82h10.07v7.74h-10.07zM257.27 199.82h10.07v7.74h-10.07zM297.57 199.82h10.07v7.74h-10.07zM35.62 207.56h10.07v7.74h-10.07zM86 207.56h10.07v7.74h-10.07zM186.75 207.56h10.07v7.74h-10.07zM227.05 207.56h10.07v7.74h-10.07zM247.2 207.56h10.07v7.74h-10.07zM277.42 207.56h10.07v7.74h-10.07zM287.5 207.56h10.07v7.74h-10.07zM25.55 215.3h10.07v8.88h-10.07zM35.62 215.3h10.07v8.88h-10.07zM126.3 215.3h10.07v8.88h-10.07zM146.45 215.3h10.07v8.88h-10.07zM196.82 224.18h10.07v8.88h-10.07zM5.4 233.06h10.07v8.88h-10.07zM45.7 233.06h10.07v8.88h-10.07zM146.45 233.06h10.07v8.88h-10.07zM206.9 233.06h10.07v8.88h-10.07zM55.77 241.94h10.07v8.88h-10.07zM96.08 241.94h10.07v8.88h-10.07zM196.82 241.94h10.07v8.88h-10.07zM287.5 241.94h10.07v8.88h-10.07zM65.85 250.82h10.07v8.88h-10.07zM86 250.82h10.07v8.88h-10.07zM106.15 250.82h10.07v8.88h-10.07zM206.9 250.82h10.07v8.88h-10.07zM25.55 259.71h10.07v8.88h-10.07zM65.85 259.71h10.07v8.88h-10.07zM75.92 259.71h10.07v8.88h-10.07zM86 259.71h10.07v8.88h-10.07zM116.22 259.71h10.07v8.88h-10.07zM206.9 259.71h10.07v8.88h-10.07zM267.35 259.71h10.07v8.88h-10.07zM307.65 259.71h10.07v8.88h-10.07zM237.12 268.59h10.07v8.88h-10.07zM15.47 277.47h10.07v8.88h-10.07zM45.7 277.47h10.07v8.88h-10.07zM65.85 277.47h10.07v8.88h-10.07zM247.2 277.47h10.07v8.88h-10.07zM267.35 277.47h10.07v8.88h-10.07zM35.62 286.35h10.07v8.88h-10.07zM136.38 286.35h10.07v8.88h-10.07zM166.6 286.35h10.07v8.88h-10.07zM227.05 286.35h10.07v8.88h-10.07zM267.35 286.35h10.07v8.88h-10.07zM25.55 295.23h10.07v8.88h-10.07zM35.62 304.12h10.07v8.88h-10.07zM75.92 304.12h10.07v8.88h-10.07zM86 304.12h10.07v8.88h-10.07zM96.08 304.12h10.07v8.88h-10.07zM126.3 304.12h10.07v8.88h-10.07zM136.38 304.12h10.07v8.88h-10.07zM146.45 304.12h10.07v8.88h-10.07zM196.82 304.12h10.07v8.88h-10.07zM287.5 304.12h10.07v8.88h-10.07zM307.65 304.12h10.07v8.88h-10.07zM45.7 313h10.07v8.88h-10.07zM267.35 313h10.07v8.88h-10.07zM307.65 313h10.07v8.88h-10.07zM126.3 321.88h10.07v8.88h-10.07zM257.27 321.88h10.07v8.88h-10.07zM35.62 330.76h10.07v8.88h-10.07zM116.22 330.76h10.07v8.88h-10.07zM287.5 330.76h10.07v8.88h-10.07zM15.47 339.64h10.07v8.88h-10.07zM216.97 339.64h10.07v8.88h-10.07zM257.27 339.64h10.07v8.88h-10.07zM287.5 339.64h10.07v8.88h-10.07zM35.62 348.53h10.07v8.88h-10.07zM55.77 348.53h10.07v8.88h-10.07zM96.08 348.53h10.07v8.88h-10.07zM126.3 348.53h10.07v8.88h-10.07zM247.2 348.53h10.07v8.88h-10.07zM257.27 348.53h10.07v8.88h-10.07zM75.92 357.41h10.07v8.88h-10.07zM96.08 357.41h10.07v8.88h-10.07zM257.27 357.41h10.07v8.88h-10.07zM5.4 366.29h10.07v8.88h-10.07zM35.62 366.29h10.07v8.88h-10.07zM45.7 366.29h10.07v8.88h-10.07zM146.45 366.29h10.07v8.88h-10.07zM186.75 366.29h10.07v8.88h-10.07zM287.5 366.29h10.07v8.88h-10.07zM35.62 375.17h10.07v8.88h-10.07zM45.7 375.17h10.07v8.88h-10.07zM86 375.17h10.07v8.88h-10.07zM106.15 375.17h10.07v8.88h-10.07zM136.38 375.17h10.07v8.88h-10.07zM186.75 375.17h10.07v8.88h-10.07zM297.57 375.17h10.07v8.88h-10.07zM45.7 384.05h10.07v8.88h-10.07zM186.75 384.05h10.07v8.88h-10.07zM247.2 384.05h10.07v8.88h-10.07zM277.42 384.05h10.07v8.88h-10.07zM75.92 392.94h10.07v8.88h-10.07zM237.12 392.94h10.07v8.88h-10.07zM277.42 392.94h10.07v8.88h-10.07zM86 401.82h10.07v8.88h-10.07zM116.22 401.82h10.07v8.88h-10.07zM65.85 410.7h10.07v8.88h-10.07zM86 410.7h10.07v8.88h-10.07zM126.3 410.7h10.07v8.88h-10.07zM35.62 419.58h10.07v8.88h-10.07zM106.15 419.58h10.07v8.88h-10.07zM136.38 419.58h10.07v8.88h-10.07zM176.67 419.58h10.07v8.88h-10.07zM196.82 419.58h10.07v8.88h-10.07zM216.97 419.58h10.07v8.88h-10.07zM35.62 428.46h10.07v8.88h-10.07zM86 428.46h10.07v8.88h-10.07zM146.45 428.46h10.07v8.88h-10.07zM196.82 428.46h10.07v8.88h-10.07zM287.5 428.46h10.07v8.88h-10.07zM35.62 437.35h10.07v8.88h-10.07zM126.3 437.35h10.07v8.88h-10.07zM156.53 437.35h10.07v8.88h-10.07zM257.27 437.35h10.07v8.88h-10.07zM297.57 437.35h10.07v8.88h-10.07zM307.65 437.35h10.07v8.88h-10.07zM106.15 446.23h10.07v8.88h-10.07zM307.65 446.23h10.07v8.88h-10.07zM96.08 455.11h10.07v8.88h-10.07zM176.67 455.11h10.07v8.88h-10.07zM5.4 463.99h10.07v8.88h-10.07zM55.77 463.99h10.07v8.88h-10.07zM65.85 463.99h10.07v8.88h-10.07zM96.08 463.99h10.07v8.88h-10.07zM156.53 463.99h10.07v8.88h-10.07zM75.92 472.87h10.07v8.88h-10.07zM86 472.87h10.07v8.88h-10.07zM96.08 472.87h10.07v8.88h-10.07zM136.38 472.87h10.07v8.88h-10.07zM277.42 472.87h10.07v8.88h-10.07zM96.08 481.76h10.07v8.88h-10.07zM116.22 481.76h10.07v8.88h-10.07zM206.9 481.76h10.07v8.88h-10.07zM267.35 481.76h10.07v8.88h-10.07zM287.5 481.76h10.07v8.88h-10.07zM35.62 490.64h10.07v8.88h-10.07zM65.85 490.64h10.07v8.88h-10.07zM176.67 499.52h10.07v8.88h-10.07zM247.2 499.52h10.07v8.88h-10.07zM35.62 508.4h10.07v8.88h-10.07zM126.3 508.4h10.07v8.88h-10.07zM196.82 508.4h10.07v8.88h-10.07zM206.9 508.4h10.07v8.88h-10.07zM257.27 508.4h10.07v8.88h-10.07zM35.62 517.28h10.07v8.88h-10.07zM35.62 526.17h10.07v8.88h-10.07zM55.77 526.17h10.07v8.88h-10.07zM297.57 526.17h10.07v8.88h-10.07zM35.62 535.05h10.07v8.88h-10.07zM86 535.05h10.07v8.88h-10.07zM106.15 535.05h10.07v8.88h-10.07zM116.22 535.05h10.07v8.88h-10.07zM136.38 535.05h10.07v8.88h-10.07zM287.5 535.05h10.07v8.88h-10.07zM55.77 543.93h10.07v8.88h-10.07zM116.22 543.93h10.07v8.88h-10.07zM146.45 543.93h10.07v8.88h-10.07zM297.57 543.93h10.07v8.88h-10.07zM5.4 552.81h10.07v8.88h-10.07zM25.55 552.81h10.07v8.88h-10.07zM35.62 552.81h10.07v8.88h-10.07zM106.15 552.81h10.07v8.88h-10.07zM116.22 552.81h10.07v8.88h-10.07zM126.3 552.81h10.07v8.88h-10.07zM136.38 552.81h10.07v8.88h-10.07zM55.77 561.69h10.07v8.88h-10.07zM96.08 561.69h10.07v8.88h-10.07zM146.45 561.69h10.07v8.88h-10.07zM267.35 561.69h10.07v8.88h-10.07zM55.77 570.58h10.07v8.88h-10.07zM86 570.58h10.07v8.88h-10.07zM96.08 570.58h10.07v8.88h-10.07zM55.77 579.46h10.07v8.88h-10.07zM5.4 588.34h10.07v8.88h-10.07zM15.47 588.34h10.07v8.88h-10.07zM35.62 588.34h10.07v8.88h-10.07zM45.7 588.34h10.07v8.88h-10.07zM55.77 588.34h10.07v8.88h-10.07zM75.92 588.34h10.07v8.88h-10.07zM15.47 597.22h10.07v8.88h-10.07zM35.62 597.22h10.07v8.88h-10.07zM257.27 597.22h10.07v8.88h-10.07zM35.62 606.11h10.07v8.88h-10.07zM116.22 606.11h10.07v8.88h-10.07zM267.35 606.11h10.07v8.88h-10.07zM287.5 606.11h10.07v8.88h-10.07zM5.4 614.99h10.07v8.88h-10.07zM126.3 614.99h10.07v8.88h-10.07zM267.35 614.99h10.07v8.88h-10.07zM297.57 614.99h10.07v8.88h-10.07zM5.4 623.87h10.07v8.88h-10.07zM96.08 623.87h10.07v8.88h-10.07zM116.22 623.87h10.07v8.88h-10.07zM176.67 623.87h10.07v8.88h-10.07zM267.35 623.87h10.07v8.88h-10.07zM15.47 632.75h10.07v8.88h-10.07zM5.4 641.63h10.07v8.88h-10.07zM35.62 641.63h10.07v8.88h-10.07zM106.15 641.63h10.07v8.88h-10.07z"/><path fill="#f8cfe8" d="M237.12 37.3h10.07v7.74h-10.07zM297.57 37.3h10.07v7.74h-10.07zM55.77 45.04h10.07v7.74h-10.07zM65.85 45.04h10.07v7.74h-10.07zM116.22 45.04h10.07v7.74h-10.07zM297.57 45.04h10.07v7.74h-10.07zM55.77 52.78h10.07v7.74h-10.07zM116.22 52.78h10.07v7.74h-10.07zM277.42 60.52h10.07v7.74h-10.07zM287.5 60.52h10.07v7.74h-10.07zM297.57 60.52h10.07v7.74h-10.07zM267.35 68.26h10.07v7.74h-10.07zM297.57 76h10.07v7.74h-10.07zM5.4 83.73h10.07v7.74h-10.07zM55.77 83.73h10.07v7.74h-10.07zM206.9 83.73h10.07v7.74h-10.07zM247.2 83.73h10.07v7.74h-10.07zM297.57 83.73h10.07v7.74h-10.07zM15.47 91.47h10.07v7.74h-10.07zM35.62 91.47h10.07v7.74h-10.07zM75.92 91.47h10.07v7.74h-10.07zM277.42 91.47h10.07v7.74h-10.07zM287.5 91.47h10.07v7.74h-10.07zM25.55 99.21h10.07v7.74h-10.07zM65.85 99.21h10.07v7.74h-10.07zM136.38 99.21h10.07v7.74h-10.07zM186.75 99.21h10.07v7.74h-10.07zM287.5 99.21h10.07v7.74h-10.07zM75.92 106.95h10.07v7.74h-10.07zM106.15 106.95h10.07v7.74h-10.07zM116.22 106.95h10.07v7.74h-10.07zM146.45 106.95h10.07v7.74h-10.07zM257.27 106.95h10.07v7.74h-10.07zM277.42 106.95h10.07v7.74h-10.07zM297.57 106.95h10.07v7.74h-10.07zM35.62 114.69h10.07v7.74h-10.07zM257.27 114.69h10.07v7.74h-10.07zM277.42 114.69h10.07v7.74h-10.07zM287.5 122.43h10.07v7.74h-10.07zM297.57 122.43h10.07v7.74h-10.07zM75.92 130.17h10.07v7.74h-10.07zM186.75 130.17h10.07v7.74h-10.07zM25.55 137.91h10.07v7.74h-10.07zM35.62 137.91h10.07v7.74h-10.07zM75.92 137.91h10.07v7.74h-10.07zM176.67 137.91h10.07v7.74h-10.07zM247.2 137.91h10.07v7.74h-10.07zM287.5 137.91h10.07v7.74h-10.07zM15.47 145.65h10.07v7.74h-10.07zM75.92 145.65h10.07v7.74h-10.07zM96.08 145.65h10.07v7.74h-10.07zM126.3 145.65h10.07v7.74h-10.07zM136.38 145.65h10.07v7.74h-10.07zM146.45 145.65h10.07v7.74h-10.07zM156.53 145.65h10.07v7.74h-10.07zM206.9 145.65h10.07v7.74h-10.07zM277.42 145.65h10.07v7.74h-10.07zM297.57 145.65h10.07v7.74h-10.07zM156.53 153.38h10.07v7.74h-10.07zM166.6 153.38h10.07v7.74h-10.07zM176.67 153.38h10.07v7.74h-10.07zM25.55 161.12h10.07v7.74h-10.07zM116.22 161.12h10.07v7.74h-10.07zM156.53 161.12h10.07v7.74h-10.07zM196.82 161.12h10.07v7.74h-10.07zM35.62 168.86h10.07v7.74h-10.07zM35.62 176.6h10.07v7.74h-10.07zM237.12 176.6h10.07v7.74h-10.07zM55.77 184.34h10.07v7.74h-10.07zM106.15 184.34h10.07v7.74h-10.07zM126.3 184.34h10.07v7.74h-10.07zM206.9 184.34h10.07v7.74h-10.07zM287.5 184.34h10.07v7.74h-10.07zM55.77 192.08h10.07v7.74h-10.07zM65.85 192.08h10.07v7.74h-10.07zM136.38 192.08h10.07v7.74h-10.07zM146.45 192.08h10.07v7.74h-10.07zM166.6 199.82h10.07v7.74h-10.07zM75.92 207.56h10.07v7.74h-10.07zM116.22 207.56h10.07v7.74h-10.07zM297.57 207.56h10.07v7.74h-10.07zM55.77 215.3h10.07v8.88h-10.07zM86 215.3h10.07v8.88h-10.07zM257.27 215.3h10.07v8.88h-10.07zM277.42 215.3h10.07v8.88h-10.07zM297.57 215.3h10.07v8.88h-10.07zM35.62 224.18h10.07v8.88h-10.07zM96.08 224.18h10.07v8.88h-10.07zM186.75 224.18h10.07v8.88h-10.07zM287.5 224.18h10.07v8.88h-10.07zM307.65 224.18h10.07v8.88h-10.07zM65.85 233.06h10.07v8.88h-10.07zM126.3 233.06h10.07v8.88h-10.07zM237.12 233.06h10.07v8.88h-10.07zM116.22 241.94h10.07v8.88h-10.07zM277.42 241.94h10.07v8.88h-10.07zM15.47 250.82h10.07v8.88h-10.07zM25.55 250.82h10.07v8.88h-10.07zM257.27 250.82h10.07v8.88h-10.07zM267.35 250.82h10.07v8.88h-10.07zM307.65 250.82h10.07v8.88h-10.07zM35.62 259.71h10.07v8.88h-10.07zM136.38 259.71h10.07v8.88h-10.07zM126.3 268.59h10.07v8.88h-10.07zM196.82 268.59h10.07v8.88h-10.07zM287.5 268.59h10.07v8.88h-10.07zM5.4 277.47h10.07v8.88h-10.07zM75.92 277.47h10.07v8.88h-10.07zM277.42 277.47h10.07v8.88h-10.07zM5.4 286.35h10.07v8.88h-10.07zM106.15 286.35h10.07v8.88h-10.07zM146.45 286.35h10.07v8.88h-10.07zM287.5 286.35h10.07v8.88h-10.07zM116.22 295.23h10.07v8.88h-10.07zM196.82 295.23h10.07v8.88h-10.07zM287.5 295.23h10.07v8.88h-10.07zM206.9 304.12h10.07v8.88h-10.07zM297.57 304.12h10.07v8.88h-10.07zM126.3 313h10.07v8.88h-10.07zM186.75 313h10.07v8.88h-10.07zM216.97 313h10.07v8.88h-10.07zM146.45 321.88h10.07v8.88h-10.07zM247.2 321.88h10.07v8.88h-10.07zM55.77 330.76h10.07v8.88h-10.07zM106.15 330.76h10.07v8.88h-10.07zM96.08 339.64h10.07v8.88h-10.07zM65.85 348.53h10.07v8.88h-10.07zM116.22 348.53h10.07v8.88h-10.07zM196.82 348.53h10.07v8.88h-10.07zM267.35 348.53h10.07v8.88h-10.07zM297.57 348.53h10.07v8.88h-10.07zM45.7 357.41h10.07v8.88h-10.07zM86 357.41h10.07v8.88h-10.07zM106.15 357.41h10.07v8.88h-10.07zM216.97 357.41h10.07v8.88h-10.07zM65.85 366.29h10.07v8.88h-10.07zM156.53 366.29h10.07v8.88h-10.07zM247.2 366.29h10.07v8.88h-10.07zM277.42 366.29h10.07v8.88h-10.07zM297.57 366.29h10.07v8.88h-10.07zM96.08 375.17h10.07v8.88h-10.07zM116.22 375.17h10.07v8.88h-10.07zM156.53 375.17h10.07v8.88h-10.07zM106.15 392.94h10.07v8.88h-10.07zM45.7 401.82h10.07v8.88h-10.07zM75.92 401.82h10.07v8.88h-10.07zM176.67 401.82h10.07v8.88h-10.07zM206.9 401.82h10.07v8.88h-10.07zM156.53 410.7h10.07v8.88h-10.07zM106.15 428.46h10.07v8.88h-10.07zM176.67 428.46h10.07v8.88h-10.07zM227.05 428.46h10.07v8.88h-10.07zM65.85 437.35h10.07v8.88h-10.07zM106.15 437.35h10.07v8.88h-10.07zM116.22 437.35h10.07v8.88h-10.07zM237.12 437.35h10.07v8.88h-10.07zM287.5 437.35h10.07v8.88h-10.07zM35.62 446.23h10.07v8.88h-10.07zM116.22 446.23h10.07v8.88h-10.07zM55.77 455.11h10.07v8.88h-10.07zM65.85 455.11h10.07v8.88h-10.07zM237.12 455.11h10.07v8.88h-10.07zM247.2 455.11h10.07v8.88h-10.07zM267.35 455.11h10.07v8.88h-10.07zM277.42 455.11h10.07v8.88h-10.07zM86 463.99h10.07v8.88h-10.07zM136.38 463.99h10.07v8.88h-10.07zM257.27 463.99h10.07v8.88h-10.07zM297.57 463.99h10.07v8.88h-10.07zM206.9 472.87h10.07v8.88h-10.07zM287.5 472.87h10.07v8.88h-10.07zM126.3 481.76h10.07v8.88h-10.07zM166.6 481.76h10.07v8.88h-10.07zM297.57 481.76h10.07v8.88h-10.07zM55.77 490.64h10.07v8.88h-10.07zM96.08 490.64h10.07v8.88h-10.07zM106.15 490.64h10.07v8.88h-10.07zM126.3 490.64h10.07v8.88h-10.07zM146.45 490.64h10.07v8.88h-10.07zM206.9 490.64h10.07v8.88h-10.07zM55.77 499.52h10.07v8.88h-10.07zM126.3 499.52h10.07v8.88h-10.07zM136.38 499.52h10.07v8.88h-10.07zM196.82 499.52h10.07v8.88h-10.07zM206.9 499.52h10.07v8.88h-10.07zM216.97 499.52h10.07v8.88h-10.07zM257.27 499.52h10.07v8.88h-10.07zM277.42 499.52h10.07v8.88h-10.07zM96.08 508.4h10.07v8.88h-10.07zM307.65 508.4h10.07v8.88h-10.07zM55.77 517.28h10.07v8.88h-10.07zM96.08 517.28h10.07v8.88h-10.07zM106.15 517.28h10.07v8.88h-10.07zM136.38 517.28h10.07v8.88h-10.07zM247.2 526.17h10.07v8.88h-10.07zM307.65 535.05h10.07v8.88h-10.07zM96.08 543.93h10.07v8.88h-10.07zM106.15 543.93h10.07v8.88h-10.07zM136.38 543.93h10.07v8.88h-10.07zM287.5 543.93h10.07v8.88h-10.07zM186.75 552.81h10.07v8.88h-10.07zM196.82 552.81h10.07v8.88h-10.07zM206.9 552.81h10.07v8.88h-10.07zM216.97 552.81h10.07v8.88h-10.07zM297.57 552.81h10.07v8.88h-10.07zM227.05 561.69h10.07v8.88h-10.07zM237.12 561.69h10.07v8.88h-10.07zM206.9 570.58h10.07v8.88h-10.07zM106.15 579.46h10.07v8.88h-10.07zM186.75 588.34h10.07v8.88h-10.07zM237.12 588.34h10.07v8.88h-10.07zM247.2 588.34h10.07v8.88h-10.07zM307.65 588.34h10.07v8.88h-10.07zM237.12 606.11h10.07v8.88h-10.07zM297.57 606.11h10.07v8.88h-10.07zM116.22 614.99h10.07v8.88h-10.07zM206.9 614.99h10.07v8.88h-10.07zM237.12 614.99h10.07v8.88h-10.07zM15.47 623.87h10.07v8.88h-10.07zM55.77 623.87h10.07v8.88h-10.07zM257.27 623.87h10.07v8.88h-10.07zM297.57 623.87h10.07v8.88h-10.07zM257.27 632.75h10.07v8.88h-10.07zM307.65 641.63h10.07v8.88h-10.07zM65.85 650.51h10.07v8.88h-10.07z"/><path fill="#f5767c" d="M15.47 37.3h10.07v7.74h-10.07zM25.55 37.3h10.07v7.74h-10.07zM86 37.3h10.07v7.74h-10.07zM96.08 37.3h10.07v7.74h-10.07zM116.22 37.3h10.07v7.74h-10.07zM136.38 37.3h10.07v7.74h-10.07zM146.45 37.3h10.07v7.74h-10.07zM196.82 37.3h10.07v7.74h-10.07zM86 45.04h10.07v7.74h-10.07zM126.3 45.04h10.07v7.74h-10.07zM146.45 45.04h10.07v7.74h-10.07zM287.5 45.04h10.07v7.74h-10.07zM307.65 45.04h10.07v7.74h-10.07zM75.92 52.78h10.07v7.74h-10.07zM206.9 52.78h10.07v7.74h-10.07zM237.12 52.78h10.07v7.74h-10.07zM287.5 52.78h10.07v7.74h-10.07zM297.57 52.78h10.07v7.74h-10.07zM35.62 60.52h10.07v7.74h-10.07zM65.85 60.52h10.07v7.74h-10.07zM75.92 60.52h10.07v7.74h-10.07zM106.15 60.52h10.07v7.74h-10.07zM136.38 60.52h10.07v7.74h-10.07zM237.12 60.52h10.07v7.74h-10.07zM307.65 60.52h10.07v7.74h-10.07zM106.15 68.26h10.07v7.74h-10.07zM116.22 68.26h10.07v7.74h-10.07zM146.45 68.26h10.07v7.74h-10.07zM277.42 68.26h10.07v7.74h-10.07zM287.5 68.26h10.07v7.74h-10.07zM55.77 76h10.07v7.74h-10.07zM65.85 76h10.07v7.74h-10.07zM86 76h10.07v7.74h-10.07zM96.08 76h10.07v7.74h-10.07zM106.15 76h10.07v7.74h-10.07zM176.67 76h10.07v7.74h-10.07zM196.82 76h10.07v7.74h-10.07zM206.9 76h10.07v7.74h-10.07zM35.62 83.73h10.07v7.74h-10.07zM45.7 83.73h10.07v7.74h-10.07zM65.85 83.73h10.07v7.74h-10.07zM106.15 83.73h10.07v7.74h-10.07zM126.3 83.73h10.07v7.74h-10.07zM257.27 83.73h10.07v7.74h-10.07zM5.4 91.47h10.07v7.74h-10.07zM65.85 91.47h10.07v7.74h-10.07zM96.08 91.47h10.07v7.74h-10.07zM106.15 91.47h10.07v7.74h-10.07zM126.3 91.47h10.07v7.74h-10.07zM307.65 91.47h10.07v7.74h-10.07zM15.47 99.21h10.07v7.74h-10.07zM35.62 99.21h10.07v7.74h-10.07zM75.92 99.21h10.07v7.74h-10.07zM106.15 99.21h10.07v7.74h-10.07zM126.3 99.21h10.07v7.74h-10.07zM267.35 99.21h10.07v7.74h-10.07zM277.42 99.21h10.07v7.74h-10.07zM5.4 106.95h10.07v7.74h-10.07zM35.62 106.95h10.07v7.74h-10.07zM45.7 106.95h10.07v7.74h-10.07zM65.85 106.95h10.07v7.74h-10.07zM86 106.95h10.07v7.74h-10.07zM237.12 106.95h10.07v7.74h-10.07zM247.2 106.95h10.07v7.74h-10.07zM287.5 106.95h10.07v7.74h-10.07zM5.4 114.69h10.07v7.74h-10.07zM25.55 114.69h10.07v7.74h-10.07zM45.7 114.69h10.07v7.74h-10.07zM65.85 114.69h10.07v7.74h-10.07zM75.92 114.69h10.07v7.74h-10.07zM86 114.69h10.07v7.74h-10.07zM116.22 114.69h10.07v7.74h-10.07zM126.3 114.69h10.07v7.74h-10.07zM136.38 114.69h10.07v7.74h-10.07zM156.53 114.69h10.07v7.74h-10.07zM15.47 122.43h10.07v7.74h-10.07zM35.62 122.43h10.07v7.74h-10.07zM126.3 122.43h10.07v7.74h-10.07zM146.45 122.43h10.07v7.74h-10.07zM257.27 122.43h10.07v7.74h-10.07zM5.4 130.17h10.07v7.74h-10.07zM65.85 130.17h10.07v7.74h-10.07zM5.4 137.91h10.07v7.74h-10.07zM65.85 137.91h10.07v7.74h-10.07zM126.3 137.91h10.07v7.74h-10.07zM237.12 137.91h10.07v7.74h-10.07zM257.27 137.91h10.07v7.74h-10.07zM297.57 137.91h10.07v7.74h-10.07zM5.4 145.65h10.07v7.74h-10.07zM35.62 145.65h10.07v7.74h-10.07zM55.77 145.65h10.07v7.74h-10.07zM65.85 145.65h10.07v7.74h-10.07zM237.12 145.65h10.07v7.74h-10.07zM247.2 145.65h10.07v7.74h-10.07zM267.35 145.65h10.07v7.74h-10.07zM55.77 153.38h10.07v7.74h-10.07zM75.92 153.38h10.07v7.74h-10.07zM116.22 153.38h10.07v7.74h-10.07zM277.42 153.38h10.07v7.74h-10.07zM307.65 153.38h10.07v7.74h-10.07zM35.62 161.12h10.07v7.74h-10.07zM75.92 161.12h10.07v7.74h-10.07zM86 161.12h10.07v7.74h-10.07zM136.38 161.12h10.07v7.74h-10.07zM146.45 161.12h10.07v7.74h-10.07zM247.2 161.12h10.07v7.74h-10.07zM297.57 161.12h10.07v7.74h-10.07zM65.85 168.86h10.07v7.74h-10.07zM96.08 168.86h10.07v7.74h-10.07zM106.15 168.86h10.07v7.74h-10.07zM116.22 168.86h10.07v7.74h-10.07zM146.45 168.86h10.07v7.74h-10.07zM247.2 168.86h10.07v7.74h-10.07zM257.27 168.86h10.07v7.74h-10.07zM277.42 168.86h10.07v7.74h-10.07zM25.55 176.6h10.07v7.74h-10.07zM65.85 176.6h10.07v7.74h-10.07zM75.92 176.6h10.07v7.74h-10.07zM96.08 176.6h10.07v7.74h-10.07zM166.6 176.6h10.07v7.74h-10.07zM5.4 184.34h10.07v7.74h-10.07zM25.55 184.34h10.07v7.74h-10.07zM65.85 184.34h10.07v7.74h-10.07zM75.92 184.34h10.07v7.74h-10.07zM96.08 184.34h10.07v7.74h-10.07zM136.38 184.34h10.07v7.74h-10.07zM25.55 192.08h10.07v7.74h-10.07zM35.62 192.08h10.07v7.74h-10.07zM45.7 192.08h10.07v7.74h-10.07zM116.22 192.08h10.07v7.74h-10.07zM196.82 192.08h10.07v7.74h-10.07zM237.12 192.08h10.07v7.74h-10.07zM267.35 192.08h10.07v7.74h-10.07zM307.65 192.08h10.07v7.74h-10.07zM35.62 199.82h10.07v7.74h-10.07zM96.08 199.82h10.07v7.74h-10.07zM126.3 199.82h10.07v7.74h-10.07zM136.38 199.82h10.07v7.74h-10.07zM186.75 199.82h10.07v7.74h-10.07zM237.12 199.82h10.07v7.74h-10.07zM5.4 207.56h10.07v7.74h-10.07zM15.47 207.56h10.07v7.74h-10.07zM65.85 207.56h10.07v7.74h-10.07zM96.08 207.56h10.07v7.74h-10.07zM106.15 207.56h10.07v7.74h-10.07zM126.3 207.56h10.07v7.74h-10.07zM136.38 207.56h10.07v7.74h-10.07zM166.6 207.56h10.07v7.74h-10.07zM176.67 207.56h10.07v7.74h-10.07zM257.27 207.56h10.07v7.74h-10.07zM5.4 215.3h10.07v8.88h-10.07zM15.47 215.3h10.07v8.88h-10.07zM186.75 215.3h10.07v8.88h-10.07zM247.2 215.3h10.07v8.88h-10.07zM287.5 215.3h10.07v8.88h-10.07zM307.65 215.3h10.07v8.88h-10.07zM86 224.18h10.07v8.88h-10.07zM106.15 224.18h10.07v8.88h-10.07zM126.3 224.18h10.07v8.88h-10.07zM146.45 224.18h10.07v8.88h-10.07zM176.67 224.18h10.07v8.88h-10.07zM257.27 224.18h10.07v8.88h-10.07zM116.22 233.06h10.07v8.88h-10.07zM136.38 233.06h10.07v8.88h-10.07zM186.75 233.06h10.07v8.88h-10.07zM196.82 233.06h10.07v8.88h-10.07zM216.97 233.06h10.07v8.88h-10.07zM257.27 233.06h10.07v8.88h-10.07zM277.42 233.06h10.07v8.88h-10.07zM15.47 241.94h10.07v8.88h-10.07zM25.55 241.94h10.07v8.88h-10.07zM156.53 241.94h10.07v8.88h-10.07zM186.75 241.94h10.07v8.88h-10.07zM216.97 241.94h10.07v8.88h-10.07zM227.05 241.94h10.07v8.88h-10.07zM237.12 241.94h10.07v8.88h-10.07zM307.65 241.94h10.07v8.88h-10.07zM156.53 250.82h10.07v8.88h-10.07zM166.6 250.82h10.07v8.88h-10.07zM176.67 250.82h10.07v8.88h-10.07zM186.75 250.82h10.07v8.88h-10.07zM227.05 250.82h10.07v8.88h-10.07zM237.12 250.82h10.07v8.88h-10.07zM247.2 250.82h10.07v8.88h-10.07zM287.5 250.82h10.07v8.88h-10.07zM297.57 250.82h10.07v8.88h-10.07zM96.08 259.71h10.07v8.88h-10.07zM126.3 259.71h10.07v8.88h-10.07zM156.53 259.71h10.07v8.88h-10.07zM166.6 259.71h10.07v8.88h-10.07zM176.67 259.71h10.07v8.88h-10.07zM196.82 259.71h10.07v8.88h-10.07zM216.97 259.71h10.07v8.88h-10.07zM237.12 259.71h10.07v8.88h-10.07zM257.27 259.71h10.07v8.88h-10.07zM277.42 259.71h10.07v8.88h-10.07zM297.57 259.71h10.07v8.88h-10.07zM96.08 268.59h10.07v8.88h-10.07zM106.15 268.59h10.07v8.88h-10.07zM136.38 268.59h10.07v8.88h-10.07zM146.45 268.59h10.07v8.88h-10.07zM166.6 268.59h10.07v8.88h-10.07zM176.67 268.59h10.07v8.88h-10.07zM257.27 268.59h10.07v8.88h-10.07zM277.42 268.59h10.07v8.88h-10.07zM307.65 268.59h10.07v8.88h-10.07zM55.77 277.47h10.07v8.88h-10.07zM146.45 277.47h10.07v8.88h-10.07zM156.53 277.47h10.07v8.88h-10.07zM166.6 277.47h10.07v8.88h-10.07zM186.75 277.47h10.07v8.88h-10.07zM86 286.35h10.07v8.88h-10.07zM156.53 286.35h10.07v8.88h-10.07zM237.12 286.35h10.07v8.88h-10.07zM257.27 286.35h10.07v8.88h-10.07zM277.42 286.35h10.07v8.88h-10.07zM45.7 295.23h10.07v8.88h-10.07zM156.53 295.23h10.07v8.88h-10.07zM206.9 295.23h10.07v8.88h-10.07zM55.77 304.12h10.07v8.88h-10.07zM65.85 304.12h10.07v8.88h-10.07zM106.15 304.12h10.07v8.88h-10.07zM116.22 304.12h10.07v8.88h-10.07zM156.53 304.12h10.07v8.88h-10.07zM176.67 304.12h10.07v8.88h-10.07zM247.2 304.12h10.07v8.88h-10.07zM277.42 304.12h10.07v8.88h-10.07zM55.77 313h10.07v8.88h-10.07zM65.85 313h10.07v8.88h-10.07zM156.53 321.88h10.07v8.88h-10.07zM166.6 321.88h10.07v8.88h-10.07zM196.82 321.88h10.07v8.88h-10.07zM206.9 321.88h10.07v8.88h-10.07zM287.5 321.88h10.07v8.88h-10.07zM5.4 330.76h10.07v8.88h-10.07zM237.12 330.76h10.07v8.88h-10.07zM247.2 330.76h10.07v8.88h-10.07zM277.42 330.76h10.07v8.88h-10.07zM307.65 330.76h10.07v8.88h-10.07zM45.7 339.64h10.07v8.88h-10.07zM136.38 339.64h10.07v8.88h-10.07zM186.75 339.64h10.07v8.88h-10.07zM227.05 339.64h10.07v8.88h-10.07zM237.12 339.64h10.07v8.88h-10.07zM297.57 339.64h10.07v8.88h-10.07zM106.15 348.53h10.07v8.88h-10.07zM146.45 348.53h10.07v8.88h-10.07zM176.67 348.53h10.07v8.88h-10.07zM186.75 348.53h10.07v8.88h-10.07zM206.9 348.53h10.07v8.88h-10.07zM237.12 348.53h10.07v8.88h-10.07zM277.42 348.53h10.07v8.88h-10.07zM307.65 348.53h10.07v8.88h-10.07zM196.82 357.41h10.07v8.88h-10.07zM277.42 357.41h10.07v8.88h-10.07zM287.5 357.41h10.07v8.88h-10.07zM15.47 366.29h10.07v8.88h-10.07zM196.82 366.29h10.07v8.88h-10.07zM237.12 366.29h10.07v8.88h-10.07zM257.27 366.29h10.07v8.88h-10.07zM307.65 366.29h10.07v8.88h-10.07zM65.85 375.17h10.07v8.88h-10.07zM176.67 375.17h10.07v8.88h-10.07zM227.05 375.17h10.07v8.88h-10.07zM237.12 375.17h10.07v8.88h-10.07zM277.42 375.17h10.07v8.88h-10.07zM287.5 375.17h10.07v8.88h-10.07zM307.65 375.17h10.07v8.88h-10.07zM5.4 384.05h10.07v8.88h-10.07zM166.6 384.05h10.07v8.88h-10.07zM196.82 384.05h10.07v8.88h-10.07zM237.12 384.05h10.07v8.88h-10.07zM257.27 384.05h10.07v8.88h-10.07zM126.3 392.94h10.07v8.88h-10.07zM156.53 392.94h10.07v8.88h-10.07zM166.6 392.94h10.07v8.88h-10.07zM206.9 392.94h10.07v8.88h-10.07zM287.5 392.94h10.07v8.88h-10.07zM297.57 392.94h10.07v8.88h-10.07zM126.3 401.82h10.07v8.88h-10.07zM237.12 401.82h10.07v8.88h-10.07zM287.5 401.82h10.07v8.88h-10.07zM307.65 401.82h10.07v8.88h-10.07zM35.62 410.7h10.07v8.88h-10.07zM55.77 410.7h10.07v8.88h-10.07zM75.92 410.7h10.07v8.88h-10.07zM96.08 410.7h10.07v8.88h-10.07zM186.75 410.7h10.07v8.88h-10.07zM196.82 410.7h10.07v8.88h-10.07zM237.12 410.7h10.07v8.88h-10.07zM277.42 410.7h10.07v8.88h-10.07zM287.5 410.7h10.07v8.88h-10.07zM297.57 410.7h10.07v8.88h-10.07zM307.65 410.7h10.07v8.88h-10.07zM5.4 419.58h10.07v8.88h-10.07zM55.77 419.58h10.07v8.88h-10.07zM96.08 419.58h10.07v8.88h-10.07zM156.53 419.58h10.07v8.88h-10.07zM166.6 419.58h10.07v8.88h-10.07zM237.12 419.58h10.07v8.88h-10.07zM247.2 419.58h10.07v8.88h-10.07zM186.75 428.46h10.07v8.88h-10.07zM216.97 428.46h10.07v8.88h-10.07zM257.27 428.46h10.07v8.88h-10.07zM267.35 428.46h10.07v8.88h-10.07zM297.57 428.46h10.07v8.88h-10.07zM307.65 428.46h10.07v8.88h-10.07zM55.77 437.35h10.07v8.88h-10.07zM166.6 437.35h10.07v8.88h-10.07zM176.67 437.35h10.07v8.88h-10.07zM186.75 437.35h10.07v8.88h-10.07zM216.97 437.35h10.07v8.88h-10.07zM247.2 437.35h10.07v8.88h-10.07zM277.42 437.35h10.07v8.88h-10.07zM126.3 446.23h10.07v8.88h-10.07zM156.53 446.23h10.07v8.88h-10.07zM186.75 446.23h10.07v8.88h-10.07zM196.82 446.23h10.07v8.88h-10.07zM206.9 446.23h10.07v8.88h-10.07zM227.05 446.23h10.07v8.88h-10.07zM247.2 446.23h10.07v8.88h-10.07zM257.27 446.23h10.07v8.88h-10.07zM106.15 455.11h10.07v8.88h-10.07zM116.22 455.11h10.07v8.88h-10.07zM126.3 455.11h10.07v8.88h-10.07zM156.53 455.11h10.07v8.88h-10.07zM186.75 455.11h10.07v8.88h-10.07zM196.82 455.11h10.07v8.88h-10.07zM257.27 455.11h10.07v8.88h-10.07zM297.57 455.11h10.07v8.88h-10.07zM196.82 463.99h10.07v8.88h-10.07zM216.97 463.99h10.07v8.88h-10.07zM5.4 472.87h10.07v8.88h-10.07zM156.53 472.87h10.07v8.88h-10.07zM196.82 472.87h10.07v8.88h-10.07zM237.12 472.87h10.07v8.88h-10.07zM247.2 472.87h10.07v8.88h-10.07zM257.27 472.87h10.07v8.88h-10.07zM297.57 472.87h10.07v8.88h-10.07zM65.85 481.76h10.07v8.88h-10.07zM75.92 481.76h10.07v8.88h-10.07zM136.38 481.76h10.07v8.88h-10.07zM146.45 481.76h10.07v8.88h-10.07zM156.53 481.76h10.07v8.88h-10.07zM176.67 481.76h10.07v8.88h-10.07zM196.82 481.76h10.07v8.88h-10.07zM257.27 481.76h10.07v8.88h-10.07zM307.65 481.76h10.07v8.88h-10.07zM136.38 490.64h10.07v8.88h-10.07zM176.67 490.64h10.07v8.88h-10.07zM257.27 490.64h10.07v8.88h-10.07zM277.42 490.64h10.07v8.88h-10.07zM287.5 490.64h10.07v8.88h-10.07zM297.57 490.64h10.07v8.88h-10.07zM106.15 499.52h10.07v8.88h-10.07zM146.45 499.52h10.07v8.88h-10.07zM156.53 499.52h10.07v8.88h-10.07zM166.6 499.52h10.07v8.88h-10.07zM237.12 499.52h10.07v8.88h-10.07zM267.35 499.52h10.07v8.88h-10.07zM287.5 499.52h10.07v8.88h-10.07zM297.57 499.52h10.07v8.88h-10.07zM307.65 499.52h10.07v8.88h-10.07zM86 508.4h10.07v8.88h-10.07zM156.53 508.4h10.07v8.88h-10.07zM166.6 508.4h10.07v8.88h-10.07zM227.05 508.4h10.07v8.88h-10.07zM247.2 508.4h10.07v8.88h-10.07zM287.5 508.4h10.07v8.88h-10.07zM146.45 517.28h10.07v8.88h-10.07zM156.53 517.28h10.07v8.88h-10.07zM176.67 517.28h10.07v8.88h-10.07zM186.75 517.28h10.07v8.88h-10.07zM216.97 517.28h10.07v8.88h-10.07zM237.12 517.28h10.07v8.88h-10.07zM247.2 517.28h10.07v8.88h-10.07zM257.27 517.28h10.07v8.88h-10.07zM267.35 517.28h10.07v8.88h-10.07zM277.42 517.28h10.07v8.88h-10.07zM287.5 517.28h10.07v8.88h-10.07zM297.57 517.28h10.07v8.88h-10.07zM307.65 517.28h10.07v8.88h-10.07zM65.85 526.17h10.07v8.88h-10.07zM116.22 526.17h10.07v8.88h-10.07zM156.53 526.17h10.07v8.88h-10.07zM166.6 526.17h10.07v8.88h-10.07zM186.75 526.17h10.07v8.88h-10.07zM196.82 526.17h10.07v8.88h-10.07zM237.12 526.17h10.07v8.88h-10.07zM257.27 526.17h10.07v8.88h-10.07zM287.5 526.17h10.07v8.88h-10.07zM126.3 535.05h10.07v8.88h-10.07zM166.6 535.05h10.07v8.88h-10.07zM176.67 535.05h10.07v8.88h-10.07zM196.82 535.05h10.07v8.88h-10.07zM216.97 535.05h10.07v8.88h-10.07zM247.2 535.05h10.07v8.88h-10.07zM297.57 535.05h10.07v8.88h-10.07zM126.3 543.93h10.07v8.88h-10.07zM166.6 543.93h10.07v8.88h-10.07zM186.75 543.93h10.07v8.88h-10.07zM196.82 543.93h10.07v8.88h-10.07zM206.9 543.93h10.07v8.88h-10.07zM237.12 543.93h10.07v8.88h-10.07zM247.2 543.93h10.07v8.88h-10.07zM257.27 543.93h10.07v8.88h-10.07zM307.65 543.93h10.07v8.88h-10.07zM65.85 552.81h10.07v8.88h-10.07zM156.53 552.81h10.07v8.88h-10.07zM166.6 552.81h10.07v8.88h-10.07zM176.67 552.81h10.07v8.88h-10.07zM237.12 552.81h10.07v8.88h-10.07zM257.27 552.81h10.07v8.88h-10.07zM307.65 552.81h10.07v8.88h-10.07zM156.53 561.69h10.07v8.88h-10.07zM166.6 561.69h10.07v8.88h-10.07zM277.42 561.69h10.07v8.88h-10.07zM287.5 561.69h10.07v8.88h-10.07zM35.62 570.58h10.07v8.88h-10.07zM156.53 570.58h10.07v8.88h-10.07zM176.67 570.58h10.07v8.88h-10.07zM277.42 570.58h10.07v8.88h-10.07zM307.65 570.58h10.07v8.88h-10.07zM15.47 579.46h10.07v8.88h-10.07zM156.53 579.46h10.07v8.88h-10.07zM206.9 579.46h10.07v8.88h-10.07zM237.12 579.46h10.07v8.88h-10.07zM247.2 579.46h10.07v8.88h-10.07zM277.42 579.46h10.07v8.88h-10.07zM297.57 579.46h10.07v8.88h-10.07zM86 588.34h10.07v8.88h-10.07zM156.53 588.34h10.07v8.88h-10.07zM196.82 588.34h10.07v8.88h-10.07zM206.9 588.34h10.07v8.88h-10.07zM257.27 588.34h10.07v8.88h-10.07zM267.35 588.34h10.07v8.88h-10.07zM277.42 588.34h10.07v8.88h-10.07zM287.5 588.34h10.07v8.88h-10.07zM297.57 588.34h10.07v8.88h-10.07zM156.53 597.22h10.07v8.88h-10.07zM186.75 597.22h10.07v8.88h-10.07zM196.82 597.22h10.07v8.88h-10.07zM206.9 597.22h10.07v8.88h-10.07zM247.2 597.22h10.07v8.88h-10.07zM277.42 597.22h10.07v8.88h-10.07zM65.85 606.11h10.07v8.88h-10.07zM186.75 606.11h10.07v8.88h-10.07zM206.9 606.11h10.07v8.88h-10.07zM247.2 606.11h10.07v8.88h-10.07zM257.27 606.11h10.07v8.88h-10.07zM277.42 606.11h10.07v8.88h-10.07zM307.65 606.11h10.07v8.88h-10.07zM166.6 614.99h10.07v8.88h-10.07zM176.67 614.99h10.07v8.88h-10.07zM196.82 614.99h10.07v8.88h-10.07zM247.2 614.99h10.07v8.88h-10.07zM257.27 614.99h10.07v8.88h-10.07zM287.5 614.99h10.07v8.88h-10.07zM196.82 623.87h10.07v8.88h-10.07zM227.05 623.87h10.07v8.88h-10.07zM237.12 623.87h10.07v8.88h-10.07zM277.42 623.87h10.07v8.88h-10.07zM287.5 623.87h10.07v8.88h-10.07zM116.22 632.75h10.07v8.88h-10.07zM166.6 632.75h10.07v8.88h-10.07zM227.05 632.75h10.07v8.88h-10.07zM247.2 632.75h10.07v8.88h-10.07zM267.35 632.75h10.07v8.88h-10.07zM297.57 632.75h10.07v8.88h-10.07zM55.77 641.63h10.07v8.88h-10.07zM206.9 641.63h10.07v8.88h-10.07zM277.42 641.63h10.07v8.88h-10.07zM297.57 641.63h10.07v8.88h-10.07zM156.53 650.51h10.07v8.88h-10.07zM196.82 650.51h10.07v8.88h-10.07zM247.2 650.51h10.07v8.88h-10.07zM257.27 650.51h10.07v8.88h-10.07zM297.57 650.51h10.07v8.88h-10.07z"/><path fill="#f03e42" d="M5.4 37.3h10.07v7.74h-10.07zM35.62 37.3h10.07v7.74h-10.07zM106.15 37.3h10.07v7.74h-10.07zM126.3 37.3h10.07v7.74h-10.07zM96.08 45.04h10.07v7.74h-10.07zM106.15 45.04h10.07v7.74h-10.07zM25.55 52.78h10.07v7.74h-10.07zM65.85 52.78h10.07v7.74h-10.07zM96.08 52.78h10.07v7.74h-10.07zM106.15 52.78h10.07v7.74h-10.07zM146.45 52.78h10.07v7.74h-10.07zM5.4 60.52h10.07v7.74h-10.07zM86 60.52h10.07v7.74h-10.07zM96.08 60.52h10.07v7.74h-10.07zM45.7 68.26h10.07v7.74h-10.07zM86 68.26h10.07v7.74h-10.07zM126.3 68.26h10.07v7.74h-10.07zM297.57 68.26h10.07v7.74h-10.07zM15.47 76h10.07v7.74h-10.07zM25.55 76h10.07v7.74h-10.07zM146.45 76h10.07v7.74h-10.07zM257.27 76h10.07v7.74h-10.07zM15.47 83.73h10.07v7.74h-10.07zM25.55 83.73h10.07v7.74h-10.07zM116.22 83.73h10.07v7.74h-10.07zM186.75 83.73h10.07v7.74h-10.07zM45.7 91.47h10.07v7.74h-10.07zM136.38 91.47h10.07v7.74h-10.07zM146.45 91.47h10.07v7.74h-10.07zM86 99.21h10.07v7.74h-10.07zM307.65 99.21h10.07v7.74h-10.07zM15.47 106.95h10.07v7.74h-10.07zM307.65 106.95h10.07v7.74h-10.07zM146.45 114.69h10.07v7.74h-10.07zM25.55 122.43h10.07v7.74h-10.07zM75.92 122.43h10.07v7.74h-10.07zM96.08 122.43h10.07v7.74h-10.07zM116.22 122.43h10.07v7.74h-10.07zM136.38 122.43h10.07v7.74h-10.07zM267.35 122.43h10.07v7.74h-10.07zM86 130.17h10.07v7.74h-10.07zM267.35 130.17h10.07v7.74h-10.07zM307.65 130.17h10.07v7.74h-10.07zM106.15 137.91h10.07v7.74h-10.07zM136.38 137.91h10.07v7.74h-10.07zM106.15 145.65h10.07v7.74h-10.07zM5.4 153.38h10.07v7.74h-10.07zM96.08 153.38h10.07v7.74h-10.07zM126.3 153.38h10.07v7.74h-10.07zM136.38 153.38h10.07v7.74h-10.07zM146.45 153.38h10.07v7.74h-10.07zM65.85 161.12h10.07v7.74h-10.07zM96.08 161.12h10.07v7.74h-10.07zM267.35 161.12h10.07v7.74h-10.07zM287.5 161.12h10.07v7.74h-10.07zM86 168.86h10.07v7.74h-10.07zM136.38 168.86h10.07v7.74h-10.07zM267.35 168.86h10.07v7.74h-10.07zM5.4 176.6h10.07v7.74h-10.07zM106.15 176.6h10.07v7.74h-10.07zM126.3 176.6h10.07v7.74h-10.07zM136.38 176.6h10.07v7.74h-10.07zM146.45 176.6h10.07v7.74h-10.07zM297.57 176.6h10.07v7.74h-10.07zM86 192.08h10.07v7.74h-10.07zM297.57 192.08h10.07v7.74h-10.07zM5.4 199.82h10.07v7.74h-10.07zM25.55 199.82h10.07v7.74h-10.07zM106.15 199.82h10.07v7.74h-10.07zM156.53 199.82h10.07v7.74h-10.07zM216.97 199.82h10.07v7.74h-10.07zM25.55 207.56h10.07v7.74h-10.07zM206.9 207.56h10.07v7.74h-10.07zM156.53 215.3h10.07v8.88h-10.07zM176.67 215.3h10.07v8.88h-10.07zM196.82 215.3h10.07v8.88h-10.07zM206.9 215.3h10.07v8.88h-10.07zM227.05 215.3h10.07v8.88h-10.07zM55.77 224.18h10.07v8.88h-10.07zM116.22 224.18h10.07v8.88h-10.07zM156.53 224.18h10.07v8.88h-10.07zM216.97 224.18h10.07v8.88h-10.07zM227.05 224.18h10.07v8.88h-10.07zM267.35 224.18h10.07v8.88h-10.07zM156.53 233.06h10.07v8.88h-10.07zM247.2 233.06h10.07v8.88h-10.07zM287.5 233.06h10.07v8.88h-10.07zM307.65 233.06h10.07v8.88h-10.07zM5.4 241.94h10.07v8.88h-10.07zM166.6 241.94h10.07v8.88h-10.07zM176.67 241.94h10.07v8.88h-10.07zM206.9 241.94h10.07v8.88h-10.07zM257.27 241.94h10.07v8.88h-10.07zM35.62 250.82h10.07v8.88h-10.07zM55.77 259.71h10.07v8.88h-10.07zM106.15 259.71h10.07v8.88h-10.07zM186.75 259.71h10.07v8.88h-10.07zM227.05 259.71h10.07v8.88h-10.07zM287.5 259.71h10.07v8.88h-10.07zM156.53 268.59h10.07v8.88h-10.07zM216.97 268.59h10.07v8.88h-10.07zM247.2 268.59h10.07v8.88h-10.07zM297.57 268.59h10.07v8.88h-10.07zM176.67 277.47h10.07v8.88h-10.07zM196.82 277.47h10.07v8.88h-10.07zM257.27 277.47h10.07v8.88h-10.07zM287.5 277.47h10.07v8.88h-10.07zM186.75 286.35h10.07v8.88h-10.07zM216.97 286.35h10.07v8.88h-10.07zM247.2 286.35h10.07v8.88h-10.07zM297.57 286.35h10.07v8.88h-10.07zM166.6 295.23h10.07v8.88h-10.07zM186.75 295.23h10.07v8.88h-10.07zM307.65 295.23h10.07v8.88h-10.07zM166.6 304.12h10.07v8.88h-10.07zM186.75 304.12h10.07v8.88h-10.07zM216.97 304.12h10.07v8.88h-10.07zM227.05 304.12h10.07v8.88h-10.07zM267.35 304.12h10.07v8.88h-10.07zM35.62 313h10.07v8.88h-10.07zM166.6 313h10.07v8.88h-10.07zM176.67 313h10.07v8.88h-10.07zM196.82 313h10.07v8.88h-10.07zM206.9 313h10.07v8.88h-10.07zM227.05 313h10.07v8.88h-10.07zM237.12 313h10.07v8.88h-10.07zM35.62 321.88h10.07v8.88h-10.07zM86 321.88h10.07v8.88h-10.07zM176.67 321.88h10.07v8.88h-10.07zM186.75 321.88h10.07v8.88h-10.07zM227.05 321.88h10.07v8.88h-10.07zM237.12 321.88h10.07v8.88h-10.07zM297.57 321.88h10.07v8.88h-10.07zM156.53 330.76h10.07v8.88h-10.07zM166.6 330.76h10.07v8.88h-10.07zM176.67 330.76h10.07v8.88h-10.07zM186.75 330.76h10.07v8.88h-10.07zM196.82 330.76h10.07v8.88h-10.07zM206.9 330.76h10.07v8.88h-10.07zM227.05 330.76h10.07v8.88h-10.07zM35.62 339.64h10.07v8.88h-10.07zM116.22 339.64h10.07v8.88h-10.07zM126.3 339.64h10.07v8.88h-10.07zM156.53 339.64h10.07v8.88h-10.07zM166.6 339.64h10.07v8.88h-10.07zM176.67 339.64h10.07v8.88h-10.07zM196.82 339.64h10.07v8.88h-10.07zM206.9 339.64h10.07v8.88h-10.07zM247.2 339.64h10.07v8.88h-10.07zM267.35 339.64h10.07v8.88h-10.07zM156.53 348.53h10.07v8.88h-10.07zM166.6 348.53h10.07v8.88h-10.07zM156.53 357.41h10.07v8.88h-10.07zM176.67 357.41h10.07v8.88h-10.07zM186.75 357.41h10.07v8.88h-10.07zM297.57 357.41h10.07v8.88h-10.07zM176.67 366.29h10.07v8.88h-10.07zM216.97 375.17h10.07v8.88h-10.07zM247.2 375.17h10.07v8.88h-10.07zM257.27 375.17h10.07v8.88h-10.07zM156.53 384.05h10.07v8.88h-10.07zM176.67 384.05h10.07v8.88h-10.07zM206.9 384.05h10.07v8.88h-10.07zM227.05 384.05h10.07v8.88h-10.07zM186.75 392.94h10.07v8.88h-10.07zM247.2 392.94h10.07v8.88h-10.07zM307.65 392.94h10.07v8.88h-10.07zM156.53 401.82h10.07v8.88h-10.07zM166.6 401.82h10.07v8.88h-10.07zM186.75 401.82h10.07v8.88h-10.07zM227.05 401.82h10.07v8.88h-10.07zM297.57 401.82h10.07v8.88h-10.07zM176.67 410.7h10.07v8.88h-10.07zM206.9 410.7h10.07v8.88h-10.07zM216.97 410.7h10.07v8.88h-10.07zM247.2 410.7h10.07v8.88h-10.07zM257.27 410.7h10.07v8.88h-10.07zM126.3 419.58h10.07v8.88h-10.07zM227.05 419.58h10.07v8.88h-10.07zM257.27 419.58h10.07v8.88h-10.07zM267.35 419.58h10.07v8.88h-10.07zM277.42 419.58h10.07v8.88h-10.07zM287.5 419.58h10.07v8.88h-10.07zM297.57 419.58h10.07v8.88h-10.07zM307.65 419.58h10.07v8.88h-10.07zM126.3 428.46h10.07v8.88h-10.07zM156.53 428.46h10.07v8.88h-10.07zM166.6 428.46h10.07v8.88h-10.07zM206.9 428.46h10.07v8.88h-10.07zM237.12 428.46h10.07v8.88h-10.07zM277.42 428.46h10.07v8.88h-10.07zM196.82 437.35h10.07v8.88h-10.07zM206.9 437.35h10.07v8.88h-10.07zM176.67 446.23h10.07v8.88h-10.07zM237.12 446.23h10.07v8.88h-10.07zM277.42 446.23h10.07v8.88h-10.07zM287.5 446.23h10.07v8.88h-10.07zM166.6 455.11h10.07v8.88h-10.07zM227.05 455.11h10.07v8.88h-10.07zM307.65 455.11h10.07v8.88h-10.07zM166.6 463.99h10.07v8.88h-10.07zM176.67 463.99h10.07v8.88h-10.07zM206.9 463.99h10.07v8.88h-10.07zM247.2 463.99h10.07v8.88h-10.07zM277.42 463.99h10.07v8.88h-10.07zM287.5 463.99h10.07v8.88h-10.07zM307.65 463.99h10.07v8.88h-10.07zM106.15 472.87h10.07v8.88h-10.07zM176.67 472.87h10.07v8.88h-10.07zM216.97 472.87h10.07v8.88h-10.07zM227.05 472.87h10.07v8.88h-10.07zM186.75 481.76h10.07v8.88h-10.07zM227.05 481.76h10.07v8.88h-10.07zM237.12 481.76h10.07v8.88h-10.07zM247.2 481.76h10.07v8.88h-10.07zM277.42 481.76h10.07v8.88h-10.07zM116.22 490.64h10.07v8.88h-10.07zM156.53 490.64h10.07v8.88h-10.07zM186.75 490.64h10.07v8.88h-10.07zM196.82 490.64h10.07v8.88h-10.07zM227.05 490.64h10.07v8.88h-10.07zM247.2 490.64h10.07v8.88h-10.07zM267.35 490.64h10.07v8.88h-10.07zM186.75 499.52h10.07v8.88h-10.07zM176.67 508.4h10.07v8.88h-10.07zM277.42 508.4h10.07v8.88h-10.07zM297.57 508.4h10.07v8.88h-10.07zM116.22 517.28h10.07v8.88h-10.07zM126.3 517.28h10.07v8.88h-10.07zM206.9 517.28h10.07v8.88h-10.07zM227.05 517.28h10.07v8.88h-10.07zM277.42 526.17h10.07v8.88h-10.07zM55.77 535.05h10.07v8.88h-10.07zM146.45 535.05h10.07v8.88h-10.07zM156.53 535.05h10.07v8.88h-10.07zM206.9 535.05h10.07v8.88h-10.07zM227.05 535.05h10.07v8.88h-10.07zM237.12 535.05h10.07v8.88h-10.07zM267.35 535.05h10.07v8.88h-10.07zM156.53 543.93h10.07v8.88h-10.07zM176.67 543.93h10.07v8.88h-10.07zM277.42 543.93h10.07v8.88h-10.07zM247.2 552.81h10.07v8.88h-10.07zM277.42 552.81h10.07v8.88h-10.07zM287.5 552.81h10.07v8.88h-10.07zM216.97 561.69h10.07v8.88h-10.07zM247.2 561.69h10.07v8.88h-10.07zM297.57 561.69h10.07v8.88h-10.07zM186.75 570.58h10.07v8.88h-10.07zM216.97 570.58h10.07v8.88h-10.07zM227.05 570.58h10.07v8.88h-10.07zM247.2 570.58h10.07v8.88h-10.07zM5.4 579.46h10.07v8.88h-10.07zM166.6 579.46h10.07v8.88h-10.07zM176.67 579.46h10.07v8.88h-10.07zM186.75 579.46h10.07v8.88h-10.07zM196.82 579.46h10.07v8.88h-10.07zM257.27 579.46h10.07v8.88h-10.07zM287.5 579.46h10.07v8.88h-10.07zM307.65 579.46h10.07v8.88h-10.07zM166.6 588.34h10.07v8.88h-10.07zM216.97 588.34h10.07v8.88h-10.07zM227.05 588.34h10.07v8.88h-10.07zM166.6 597.22h10.07v8.88h-10.07zM176.67 597.22h10.07v8.88h-10.07zM307.65 597.22h10.07v8.88h-10.07zM156.53 606.11h10.07v8.88h-10.07zM196.82 606.11h10.07v8.88h-10.07zM156.53 614.99h10.07v8.88h-10.07zM186.75 614.99h10.07v8.88h-10.07zM227.05 614.99h10.07v8.88h-10.07zM277.42 614.99h10.07v8.88h-10.07zM307.65 614.99h10.07v8.88h-10.07zM166.6 623.87h10.07v8.88h-10.07zM247.2 623.87h10.07v8.88h-10.07zM156.53 632.75h10.07v8.88h-10.07zM176.67 632.75h10.07v8.88h-10.07zM287.5 632.75h10.07v8.88h-10.07zM307.65 632.75h10.07v8.88h-10.07zM156.53 641.63h10.07v8.88h-10.07zM166.6 641.63h10.07v8.88h-10.07zM176.67 641.63h10.07v8.88h-10.07zM186.75 641.63h10.07v8.88h-10.07zM196.82 641.63h10.07v8.88h-10.07zM247.2 641.63h10.07v8.88h-10.07zM257.27 641.63h10.07v8.88h-10.07zM166.6 650.51h10.07v8.88h-10.07zM186.75 650.51h10.07v8.88h-10.07zM206.9 650.51h10.07v8.88h-10.07zM237.12 650.51h10.07v8.88h-10.07zM277.42 650.51h10.07v8.88h-10.07zM287.5 650.51h10.07v8.88h-10.07zM307.65 650.51h10.07v8.88h-10.07z"/><path fill="#e40202" d="M65.85 37.3h10.07v7.74h-10.07zM75.92 37.3h10.07v7.74h-10.07zM5.4 45.04h10.07v7.74h-10.07zM15.47 45.04h10.07v7.74h-10.07zM25.55 45.04h10.07v7.74h-10.07zM45.7 45.04h10.07v7.74h-10.07zM136.38 45.04h10.07v7.74h-10.07zM5.4 52.78h10.07v7.74h-10.07zM15.47 52.78h10.07v7.74h-10.07zM35.62 52.78h10.07v7.74h-10.07zM136.38 52.78h10.07v7.74h-10.07zM15.47 60.52h10.07v7.74h-10.07zM25.55 60.52h10.07v7.74h-10.07zM75.92 68.26h10.07v7.74h-10.07zM96.08 68.26h10.07v7.74h-10.07zM136.38 68.26h10.07v7.74h-10.07zM5.4 76h10.07v7.74h-10.07zM126.3 76h10.07v7.74h-10.07zM136.38 76h10.07v7.74h-10.07zM86 83.73h10.07v7.74h-10.07zM307.65 83.73h10.07v7.74h-10.07zM86 91.47h10.07v7.74h-10.07zM297.57 91.47h10.07v7.74h-10.07zM55.77 99.21h10.07v7.74h-10.07zM96.08 99.21h10.07v7.74h-10.07zM25.55 106.95h10.07v7.74h-10.07zM106.15 114.69h10.07v7.74h-10.07zM307.65 114.69h10.07v7.74h-10.07zM86 122.43h10.07v7.74h-10.07zM307.65 122.43h10.07v7.74h-10.07zM15.47 130.17h10.07v7.74h-10.07zM25.55 130.17h10.07v7.74h-10.07zM35.62 130.17h10.07v7.74h-10.07zM45.7 130.17h10.07v7.74h-10.07zM146.45 137.91h10.07v7.74h-10.07zM25.55 145.65h10.07v7.74h-10.07zM106.15 153.38h10.07v7.74h-10.07zM196.82 153.38h10.07v7.74h-10.07zM277.42 161.12h10.07v7.74h-10.07zM126.3 168.86h10.07v7.74h-10.07zM297.57 168.86h10.07v7.74h-10.07zM206.9 176.6h10.07v7.74h-10.07zM287.5 176.6h10.07v7.74h-10.07zM267.35 184.34h10.07v7.74h-10.07zM277.42 184.34h10.07v7.74h-10.07zM307.65 184.34h10.07v7.74h-10.07zM277.42 192.08h10.07v7.74h-10.07zM176.67 199.82h10.07v7.74h-10.07zM196.82 207.56h10.07v7.74h-10.07zM166.6 215.3h10.07v8.88h-10.07zM216.97 215.3h10.07v8.88h-10.07zM166.6 224.18h10.07v8.88h-10.07zM206.9 224.18h10.07v8.88h-10.07zM237.12 224.18h10.07v8.88h-10.07zM176.67 233.06h10.07v8.88h-10.07zM247.2 241.94h10.07v8.88h-10.07zM216.97 250.82h10.07v8.88h-10.07zM247.2 259.71h10.07v8.88h-10.07zM186.75 268.59h10.07v8.88h-10.07zM227.05 268.59h10.07v8.88h-10.07zM206.9 277.47h10.07v8.88h-10.07zM216.97 277.47h10.07v8.88h-10.07zM227.05 277.47h10.07v8.88h-10.07zM307.65 286.35h10.07v8.88h-10.07zM176.67 295.23h10.07v8.88h-10.07zM216.97 295.23h10.07v8.88h-10.07zM227.05 295.23h10.07v8.88h-10.07zM237.12 304.12h10.07v8.88h-10.07zM257.27 304.12h10.07v8.88h-10.07zM247.2 313h10.07v8.88h-10.07zM257.27 313h10.07v8.88h-10.07zM216.97 321.88h10.07v8.88h-10.07zM216.97 330.76h10.07v8.88h-10.07zM277.42 339.64h10.07v8.88h-10.07zM216.97 348.53h10.07v8.88h-10.07zM227.05 348.53h10.07v8.88h-10.07zM116.22 357.41h10.07v8.88h-10.07zM206.9 357.41h10.07v8.88h-10.07zM227.05 357.41h10.07v8.88h-10.07zM307.65 357.41h10.07v8.88h-10.07zM216.97 366.29h10.07v8.88h-10.07zM227.05 366.29h10.07v8.88h-10.07zM166.6 375.17h10.07v8.88h-10.07zM216.97 384.05h10.07v8.88h-10.07zM5.4 392.94h10.07v8.88h-10.07zM176.67 392.94h10.07v8.88h-10.07zM196.82 392.94h10.07v8.88h-10.07zM216.97 392.94h10.07v8.88h-10.07zM227.05 392.94h10.07v8.88h-10.07zM216.97 401.82h10.07v8.88h-10.07zM227.05 410.7h10.07v8.88h-10.07zM186.75 419.58h10.07v8.88h-10.07zM116.22 428.46h10.07v8.88h-10.07zM247.2 428.46h10.07v8.88h-10.07zM227.05 437.35h10.07v8.88h-10.07zM166.6 446.23h10.07v8.88h-10.07zM216.97 446.23h10.07v8.88h-10.07zM216.97 455.11h10.07v8.88h-10.07zM186.75 463.99h10.07v8.88h-10.07zM227.05 463.99h10.07v8.88h-10.07zM166.6 472.87h10.07v8.88h-10.07zM186.75 472.87h10.07v8.88h-10.07zM216.97 481.76h10.07v8.88h-10.07zM166.6 490.64h10.07v8.88h-10.07zM216.97 490.64h10.07v8.88h-10.07zM237.12 490.64h10.07v8.88h-10.07zM227.05 499.52h10.07v8.88h-10.07zM186.75 508.4h10.07v8.88h-10.07zM216.97 508.4h10.07v8.88h-10.07zM166.6 517.28h10.07v8.88h-10.07zM196.82 517.28h10.07v8.88h-10.07zM267.35 526.17h10.07v8.88h-10.07zM307.65 526.17h10.07v8.88h-10.07zM186.75 535.05h10.07v8.88h-10.07zM257.27 535.05h10.07v8.88h-10.07zM277.42 535.05h10.07v8.88h-10.07zM216.97 543.93h10.07v8.88h-10.07zM227.05 543.93h10.07v8.88h-10.07zM267.35 552.81h10.07v8.88h-10.07zM186.75 561.69h10.07v8.88h-10.07zM307.65 561.69h10.07v8.88h-10.07zM166.6 570.58h10.07v8.88h-10.07zM287.5 570.58h10.07v8.88h-10.07zM297.57 570.58h10.07v8.88h-10.07zM216.97 579.46h10.07v8.88h-10.07zM227.05 579.46h10.07v8.88h-10.07zM176.67 588.34h10.07v8.88h-10.07zM216.97 597.22h10.07v8.88h-10.07zM227.05 597.22h10.07v8.88h-10.07zM166.6 606.11h10.07v8.88h-10.07zM176.67 606.11h10.07v8.88h-10.07zM216.97 606.11h10.07v8.88h-10.07zM227.05 606.11h10.07v8.88h-10.07zM216.97 614.99h10.07v8.88h-10.07zM156.53 623.87h10.07v8.88h-10.07zM186.75 623.87h10.07v8.88h-10.07zM216.97 623.87h10.07v8.88h-10.07zM307.65 623.87h10.07v8.88h-10.07zM186.75 632.75h10.07v8.88h-10.07zM216.97 632.75h10.07v8.88h-10.07zM277.42 632.75h10.07v8.88h-10.07zM216.97 641.63h10.07v8.88h-10.07zM227.05 641.63h10.07v8.88h-10.07zM176.67 650.51h10.07v8.88h-10.07zM216.97 650.51h10.07v8.88h-10.07zM227.05 650.51h10.07v8.88h-10.07z"/></g>
<path d="M5.4 37.3V659.4M15.47 37.3V659.4M25.55 37.3V659.4M35.62 37.3V659.4M45.7 37.3V659.4M55.77 37.3V659.4M65.85 37.3V659.4M75.92 37.3V659.4M86 37.3V659.4M96.08 37.3V659.4M106.15 37.3V659.4M116.22 37.3V659.4M126.3 37.3V659.4M136.38 37.3V659.4M146.45 37.3V659.4M156.53 37.3V659.4M166.6 37.3V659.4M176.67 37.3V659.4M186.75 37.3V659.4M196.82 37.3V659.4M206.9 37.3V659.4M216.97 37.3V659.4M227.05 37.3V659.4M237.12 37.3V659.4M247.2 37.3V659.4M257.27 37.3V659.4M267.35 37.3V659.4M277.42 37.3V659.4M287.5 37.3V659.4M297.57 37.3V659.4M307.65 37.3V659.4M317.72 37.3V659.4M5.4 37.3H317.72M5.4 45.04H317.72M5.4 52.78H317.72M5.4 60.52H317.72M5.4 68.26H317.72M5.4 76H317.72M5.4 83.73H317.72M5.4 91.47H317.72M5.4 99.21H317.72M5.4 106.95H317.72M5.4 114.69H317.72M5.4 122.43H317.72M5.4 130.17H317.72M5.4 137.91H317.72M5.4 145.65H317.72M5.4 153.38H317.72M5.4 161.12H317.72M5.4 168.86H317.72M5.4 176.6H317.72M5.4 184.34H317.72M5.4 192.08H317.72M5.4 199.82H317.72M5.4 207.56H317.72M5.4 215.3H317.72M5.4 224.18H317.72M5.4 233.06H317.72M5.4 241.94H317.72M5.4 250.82H317.72M5.4 259.71H317.72M5.4 268.59H317.72M5.4 277.47H317.72M5.4 286.35H317.72M5.4 295.23H317.72M5.4 304.12H317.72M5.4 313H317.72M5.4 321.88H317.72M5.4 330.76H317.72M5.4 339.64H317.72M5.4 348.53H317.72M5.4 357.41H317.72M5.4 366.29H317.72M5.4 375.17H317.72M5.4 384.05H317.72M5.4 392.94H317.72M5.4 401.82H317.72M5.4 410.7H317.72M5.4 419.58H317.72M5.4 428.46H317.72M5.4 437.35H317.72M5.4 446.23H317.72M5.4 455.11H317.72M5.4 463.99H317.72M5.4 472.87H317.72M5.4 481.76H317.72M5.4 490.64H317.72M5.4 499.52H317.72M5.4 508.4H317.72M5.4 517.28H317.72M5.4 526.17H317.72M5.4 535.05H317.72M5.4 543.93H317.72M5.4 552.81H317.72M5.4 561.69H317.72M5.4 570.58H317.72M5.4 579.46H317.72M5.4 588.34H317.72M5.4 597.22H317.72M5.4 606.11H317.72M5.4 614.99H317.72M5.4 623.87H317.72M5.4 632.75H317.72M5.4 641.63H317.72M5.4 650.51H317.72M5.4 659.4H317.72" stroke="#140808" stroke-width="1.25" fill="none"/>
<path d="M317.72 37.3H395.3M317.72 45.04H395.3M317.72 52.78H395.3M317.72 60.52H395.3M317.72 68.26H395.3M317.72 76H395.3M317.72 83.73H395.3M317.72 91.47H395.3M317.72 99.21H395.3M317.72 106.95H395.3M317.72 114.69H395.3M317.72 122.43H395.3M317.72 130.17H395.3M317.72 137.91H395.3M317.72 145.65H395.3M317.72 153.38H395.3M317.72 161.12H395.3M317.72 168.86H395.3M317.72 176.6H395.3M317.72 184.34H395.3M317.72 192.08H395.3M317.72 199.82H395.3M317.72 207.56H395.3M317.72 215.3H395.3M317.72 224.18H395.3M317.72 233.06H395.3M317.72 241.94H395.3M317.72 250.82H395.3M317.72 259.71H395.3M317.72 268.59H395.3M317.72 277.47H395.3M317.72 286.35H395.3M317.72 295.23H395.3M317.72 304.12H395.3M317.72 313H395.3M317.72 321.88H395.3M317.72 330.76H395.3M317.72 339.64H395.3M317.72 348.53H395.3M317.72 357.41H395.3M317.72 366.29H395.3M317.72 375.17H395.3M317.72 384.05H395.3M317.72 392.94H395.3M317.72 401.82H395.3M317.72 410.7H395.3M317.72 419.58H395.3M317.72 428.46H395.3M317.72 437.35H395.3M317.72 446.23H395.3M317.72 455.11H395.3M317.72 463.99H395.3M317.72 472.87H395.3M317.72 481.76H395.3M317.72 490.64H395.3M317.72 499.52H395.3M317.72 508.4H395.3M317.72 517.28H395.3M317.72 526.17H395.3M317.72 535.05H395.3M317.72 543.93H395.3M317.72 552.81H395.3M317.72 561.69H395.3M317.72 570.58H395.3M317.72 579.46H395.3M317.72 588.34H395.3M317.72 597.22H395.3M317.72 606.11H395.3M317.72 614.99H395.3M317.72 623.87H395.3M317.72 632.75H395.3M317.72 641.63H395.3M317.72 650.51H395.3M317.72 659.4H395.3" stroke="#3a3a3a" stroke-width="1" fill="none"/>
<path d="M317.72 215.3H395.3" stroke="#111" stroke-width="1.7" fill="none"/>
<path d="M395.6 36.2 C399.6 38 400.4 42 400.4 50 L400.4 112 C400.4 119 402 122.5 404.2 124.6 C402 126.7 400.4 130 400.4 137 L400.4 198 C400.4 206 399.6 210.6 395.6 212.4" stroke="#2a2a2a" stroke-width="1.3" fill="none"/>
<path d="M396 219.2 C398.8 221 400.2 226 400.4 234 L400.7 420 C400.9 429 402.6 435.5 404.2 440 C402.6 444.5 400.9 451 400.7 460 L400.3 638 C400.2 650 399.2 656.5 396.1 660.2" stroke="#2a2a2a" stroke-width="1.3" fill="none"/>
<text x="414.6" y="129.5" font-family="Liberation Sans, Arial, sans-serif" font-size="14.3" fill="#151515" stroke="#151515" stroke-width="0.25">Memory B cells</text>
<text x="414.6" y="445" font-family="Liberation Sans, Arial, sans-serif" font-size="14.3" fill="#151515" stroke="#151515" stroke-width="0.25">Germinal center</text>
<rect x="175" y="697.5" width="216.3" height="5.3" fill="url(#cb)"/>
<rect x="175" y="697.5" width="1.3" height="5.3" fill="#0a0a80"/>
<rect x="390" y="697.5" width="1.3" height="5.3" fill="#c00000"/>
<rect x="282.8" y="697.5" width="1" height="5.3" fill="#c0c0cc"/>
<g font-family="TeX Gyre Cursor, Liberation Mono, monospace" font-size="12.6" font-weight="bold" fill="#111" stroke="#111" stroke-width="0.55">
<text x="174" y="713.5">-2.4</text>
<text x="280.5" y="713.5">0</text>
<text x="361" y="713.5">+2.4</text>
</g>
</svg>
</body></html>
